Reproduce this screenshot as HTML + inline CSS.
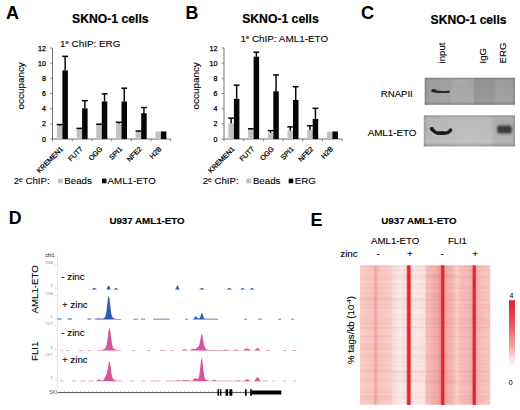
<!DOCTYPE html>
<html><head><meta charset="utf-8"><style>
html,body{margin:0;padding:0;background:#fff;width:520px;height:410px;overflow:hidden;}
svg{display:block;}
text{font-family:"Liberation Sans", sans-serif;}
</style></head><body>
<svg width="520" height="410" viewBox="0 0 520 410">
<rect x="0" y="0" width="520" height="410" fill="#fff"/>
<text x="6.0" y="18.5" font-size="18.0" font-weight="bold" fill="#000" stroke="#000" stroke-width="0.05">A</text>
<text x="185.6" y="18.5" font-size="17.8" font-weight="bold" fill="#000" stroke="#000" stroke-width="0.05">B</text>
<text x="361.0" y="18.6" font-size="18.2" font-weight="bold" fill="#000" stroke="#000" stroke-width="0.05">C</text>
<text x="8.7" y="223.8" font-size="17.8" font-weight="bold" fill="#000" stroke="#000" stroke-width="0.05">D</text>
<text x="310.6" y="225.8" font-size="18.0" font-weight="bold" fill="#000" stroke="#000" stroke-width="0.05">E</text>
<text x="72.0" y="23.1" font-size="12.2" font-weight="bold" fill="#000" stroke="#000" stroke-width="0.2">SKNO-1 cells</text>
<text x="60.0" y="47.0" font-size="9.9" fill="#000" stroke="#000" stroke-width="0.1">1<tspan font-size="6.0" dy="-2.6">e</tspan><tspan dy="2.6"> ChIP: ERG</tspan></text>
<line x1="52.5" y1="48.00399999999999" x2="52.5" y2="139.0" stroke="#707070" stroke-width="1"/>
<line x1="50.3" y1="139.00" x2="52.5" y2="139.00" stroke="#707070" stroke-width="0.9"/>
<text x="46.0" y="141.5" font-size="7.1" text-anchor="end" fill="#000" stroke="#000" stroke-width="0.25">0</text>
<line x1="50.3" y1="123.83" x2="52.5" y2="123.83" stroke="#707070" stroke-width="0.9"/>
<text x="46.0" y="126.33" font-size="7.1" text-anchor="end" fill="#000" stroke="#000" stroke-width="0.25">2</text>
<line x1="50.3" y1="108.67" x2="52.5" y2="108.67" stroke="#707070" stroke-width="0.9"/>
<text x="46.0" y="111.17" font-size="7.1" text-anchor="end" fill="#000" stroke="#000" stroke-width="0.25">4</text>
<line x1="50.3" y1="93.50" x2="52.5" y2="93.50" stroke="#707070" stroke-width="0.9"/>
<text x="46.0" y="96.0" font-size="7.1" text-anchor="end" fill="#000" stroke="#000" stroke-width="0.25">6</text>
<line x1="50.3" y1="78.34" x2="52.5" y2="78.34" stroke="#707070" stroke-width="0.9"/>
<text x="46.0" y="80.84" font-size="7.1" text-anchor="end" fill="#000" stroke="#000" stroke-width="0.25">8</text>
<line x1="50.3" y1="63.17" x2="52.5" y2="63.17" stroke="#707070" stroke-width="0.9"/>
<text x="46.0" y="65.67" font-size="7.1" text-anchor="end" fill="#000" stroke="#000" stroke-width="0.25">10</text>
<line x1="50.3" y1="48.00" x2="52.5" y2="48.00" stroke="#707070" stroke-width="0.9"/>
<text x="46.0" y="50.5" font-size="7.1" text-anchor="end" fill="#000" stroke="#000" stroke-width="0.25">12</text>
<line x1="52.5" y1="139.0" x2="170.70" y2="139.0" stroke="#707070" stroke-width="1"/>
<line x1="52.50" y1="139.0" x2="52.50" y2="141.3" stroke="#707070" stroke-width="0.9"/>
<line x1="72.20" y1="139.0" x2="72.20" y2="141.3" stroke="#707070" stroke-width="0.9"/>
<line x1="91.90" y1="139.0" x2="91.90" y2="141.3" stroke="#707070" stroke-width="0.9"/>
<line x1="111.60" y1="139.0" x2="111.60" y2="141.3" stroke="#707070" stroke-width="0.9"/>
<line x1="131.30" y1="139.0" x2="131.30" y2="141.3" stroke="#707070" stroke-width="0.9"/>
<line x1="151.00" y1="139.0" x2="151.00" y2="141.3" stroke="#707070" stroke-width="0.9"/>
<line x1="170.70" y1="139.0" x2="170.70" y2="141.3" stroke="#707070" stroke-width="0.9"/>
<rect x="56.90" y="125.73" width="5.5" height="13.27" fill="#c2c2c2"/>
<line x1="59.65" y1="125.73" x2="59.65" y2="124.59" stroke="#000" stroke-width="1.45"/>
<line x1="56.75" y1="124.59" x2="62.55" y2="124.59" stroke="#000" stroke-width="1.5"/>
<rect x="62.40" y="70.37" width="5.5" height="68.63" fill="#060606"/>
<line x1="65.15" y1="70.37" x2="65.15" y2="56.35" stroke="#000" stroke-width="1.45"/>
<line x1="62.25" y1="56.35" x2="68.05" y2="56.35" stroke="#000" stroke-width="1.5"/>
<text x="63.55" y="149.5" font-size="7" text-anchor="end" fill="#000" stroke="#000" stroke-width="0.25" transform="rotate(-45 63.55 149.5)">KREMEN1</text>
<rect x="76.60" y="128.76" width="5.5" height="10.24" fill="#c2c2c2"/>
<line x1="79.35" y1="128.76" x2="79.35" y2="128.38" stroke="#000" stroke-width="1.45"/>
<line x1="76.45" y1="128.38" x2="82.25" y2="128.38" stroke="#000" stroke-width="1.5"/>
<rect x="82.10" y="108.29" width="5.5" height="30.71" fill="#060606"/>
<line x1="84.85" y1="108.29" x2="84.85" y2="100.71" stroke="#000" stroke-width="1.45"/>
<line x1="81.95" y1="100.71" x2="87.75" y2="100.71" stroke="#000" stroke-width="1.5"/>
<text x="83.25" y="149.5" font-size="7" text-anchor="end" fill="#000" stroke="#000" stroke-width="0.25" transform="rotate(-45 83.25 149.5)">FUT7</text>
<rect x="96.30" y="124.97" width="5.5" height="14.03" fill="#c2c2c2"/>
<line x1="99.05" y1="124.97" x2="99.05" y2="124.21" stroke="#000" stroke-width="1.45"/>
<line x1="96.15" y1="124.21" x2="101.95" y2="124.21" stroke="#000" stroke-width="1.5"/>
<rect x="101.80" y="101.46" width="5.5" height="37.54" fill="#060606"/>
<line x1="104.55" y1="101.46" x2="104.55" y2="93.88" stroke="#000" stroke-width="1.45"/>
<line x1="101.65" y1="93.88" x2="107.45" y2="93.88" stroke="#000" stroke-width="1.5"/>
<text x="102.95" y="149.5" font-size="7" text-anchor="end" fill="#000" stroke="#000" stroke-width="0.25" transform="rotate(-45 102.95 149.5)">OGG</text>
<rect x="116.00" y="123.83" width="5.5" height="15.17" fill="#c2c2c2"/>
<line x1="118.75" y1="123.83" x2="118.75" y2="122.32" stroke="#000" stroke-width="1.45"/>
<line x1="115.85" y1="122.32" x2="121.65" y2="122.32" stroke="#000" stroke-width="1.5"/>
<rect x="121.50" y="101.46" width="5.5" height="37.54" fill="#060606"/>
<line x1="124.25" y1="101.46" x2="124.25" y2="88.19" stroke="#000" stroke-width="1.45"/>
<line x1="121.35" y1="88.19" x2="127.15" y2="88.19" stroke="#000" stroke-width="1.5"/>
<text x="122.65" y="149.5" font-size="7" text-anchor="end" fill="#000" stroke="#000" stroke-width="0.25" transform="rotate(-45 122.65 149.5)">SPI1</text>
<rect x="135.70" y="131.80" width="5.5" height="7.20" fill="#c2c2c2"/>
<line x1="138.45" y1="131.80" x2="138.45" y2="131.04" stroke="#000" stroke-width="1.45"/>
<line x1="135.55" y1="131.04" x2="141.35" y2="131.04" stroke="#000" stroke-width="1.5"/>
<rect x="141.20" y="113.22" width="5.5" height="25.78" fill="#060606"/>
<line x1="143.95" y1="113.22" x2="143.95" y2="107.53" stroke="#000" stroke-width="1.45"/>
<line x1="141.05" y1="107.53" x2="146.85" y2="107.53" stroke="#000" stroke-width="1.5"/>
<text x="142.35" y="149.5" font-size="7" text-anchor="end" fill="#000" stroke="#000" stroke-width="0.25" transform="rotate(-45 142.35 149.5)">NFE2</text>
<rect x="155.40" y="131.42" width="5.5" height="7.58" fill="#c2c2c2"/>
<rect x="160.90" y="131.42" width="5.5" height="7.58" fill="#060606"/>
<text x="162.05" y="149.5" font-size="7" text-anchor="end" fill="#000" stroke="#000" stroke-width="0.25" transform="rotate(-45 162.05 149.5)">H2B</text>
<text x="13.7" y="184.0" font-size="9.7" fill="#000" stroke="#000" stroke-width="0.1">2<tspan font-size="6.6" dy="-2.0">e</tspan><tspan dy="2.0"> ChIP:</tspan></text>
<rect x="57.9" y="178.6" width="4.9" height="4.7" fill="#c2c2c2"/>
<text x="64.3" y="184.0" font-size="9.7" fill="#000" stroke="#000" stroke-width="0.1">Beads</text>
<rect x="102.0" y="178.6" width="4.5" height="4.7" fill="#060606"/>
<text x="107.6" y="184.0" font-size="9.7" fill="#000" stroke="#000" stroke-width="0.1">AML1-ETO</text>
<text x="23.8" y="85.8" font-size="9.9" text-anchor="middle" fill="#000" stroke="#000" stroke-width="0.1" transform="rotate(-90 23.8 85.8)">occupancy</text>
<text x="242.2" y="23.1" font-size="12.2" font-weight="bold" fill="#000" stroke="#000" stroke-width="0.2">SKNO-1 cells</text>
<text x="240.4" y="41.7" font-size="9.9" fill="#000" stroke="#000" stroke-width="0.1">1<tspan font-size="6.0" dy="-2.6">e</tspan><tspan dy="2.6"> ChIP: AML1-ETO</tspan></text>
<line x1="224.0" y1="48.00399999999999" x2="224.0" y2="139.0" stroke="#707070" stroke-width="1"/>
<line x1="221.8" y1="139.00" x2="224.0" y2="139.00" stroke="#707070" stroke-width="0.9"/>
<text x="217.5" y="141.5" font-size="7.1" text-anchor="end" fill="#000" stroke="#000" stroke-width="0.25">0</text>
<line x1="221.8" y1="123.83" x2="224.0" y2="123.83" stroke="#707070" stroke-width="0.9"/>
<text x="217.5" y="126.33" font-size="7.1" text-anchor="end" fill="#000" stroke="#000" stroke-width="0.25">2</text>
<line x1="221.8" y1="108.67" x2="224.0" y2="108.67" stroke="#707070" stroke-width="0.9"/>
<text x="217.5" y="111.17" font-size="7.1" text-anchor="end" fill="#000" stroke="#000" stroke-width="0.25">4</text>
<line x1="221.8" y1="93.50" x2="224.0" y2="93.50" stroke="#707070" stroke-width="0.9"/>
<text x="217.5" y="96.0" font-size="7.1" text-anchor="end" fill="#000" stroke="#000" stroke-width="0.25">6</text>
<line x1="221.8" y1="78.34" x2="224.0" y2="78.34" stroke="#707070" stroke-width="0.9"/>
<text x="217.5" y="80.84" font-size="7.1" text-anchor="end" fill="#000" stroke="#000" stroke-width="0.25">8</text>
<line x1="221.8" y1="63.17" x2="224.0" y2="63.17" stroke="#707070" stroke-width="0.9"/>
<text x="217.5" y="65.67" font-size="7.1" text-anchor="end" fill="#000" stroke="#000" stroke-width="0.25">10</text>
<line x1="221.8" y1="48.00" x2="224.0" y2="48.00" stroke="#707070" stroke-width="0.9"/>
<text x="217.5" y="50.5" font-size="7.1" text-anchor="end" fill="#000" stroke="#000" stroke-width="0.25">12</text>
<line x1="224.0" y1="139.0" x2="342.20" y2="139.0" stroke="#707070" stroke-width="1"/>
<line x1="224.00" y1="139.0" x2="224.00" y2="141.3" stroke="#707070" stroke-width="0.9"/>
<line x1="243.70" y1="139.0" x2="243.70" y2="141.3" stroke="#707070" stroke-width="0.9"/>
<line x1="263.40" y1="139.0" x2="263.40" y2="141.3" stroke="#707070" stroke-width="0.9"/>
<line x1="283.10" y1="139.0" x2="283.10" y2="141.3" stroke="#707070" stroke-width="0.9"/>
<line x1="302.80" y1="139.0" x2="302.80" y2="141.3" stroke="#707070" stroke-width="0.9"/>
<line x1="322.50" y1="139.0" x2="322.50" y2="141.3" stroke="#707070" stroke-width="0.9"/>
<line x1="342.20" y1="139.0" x2="342.20" y2="141.3" stroke="#707070" stroke-width="0.9"/>
<rect x="228.40" y="123.45" width="5.5" height="15.55" fill="#c2c2c2"/>
<line x1="231.15" y1="123.45" x2="231.15" y2="118.15" stroke="#000" stroke-width="1.45"/>
<line x1="228.25" y1="118.15" x2="234.05" y2="118.15" stroke="#000" stroke-width="1.5"/>
<rect x="233.90" y="98.81" width="5.5" height="40.19" fill="#060606"/>
<line x1="236.65" y1="98.81" x2="236.65" y2="85.16" stroke="#000" stroke-width="1.45"/>
<line x1="233.75" y1="85.16" x2="239.55" y2="85.16" stroke="#000" stroke-width="1.5"/>
<text x="235.05" y="149.5" font-size="7" text-anchor="end" fill="#000" stroke="#000" stroke-width="0.25" transform="rotate(-45 235.05 149.5)">KREMEN1</text>
<rect x="248.10" y="129.52" width="5.5" height="9.48" fill="#c2c2c2"/>
<line x1="250.85" y1="129.52" x2="250.85" y2="128.76" stroke="#000" stroke-width="1.45"/>
<line x1="247.95" y1="128.76" x2="253.75" y2="128.76" stroke="#000" stroke-width="1.5"/>
<rect x="253.60" y="56.72" width="5.5" height="82.28" fill="#060606"/>
<line x1="256.35" y1="56.72" x2="256.35" y2="52.17" stroke="#000" stroke-width="1.45"/>
<line x1="253.45" y1="52.17" x2="259.25" y2="52.17" stroke="#000" stroke-width="1.5"/>
<text x="254.75" y="149.5" font-size="7" text-anchor="end" fill="#000" stroke="#000" stroke-width="0.25" transform="rotate(-45 254.75 149.5)">FUT7</text>
<rect x="267.80" y="132.93" width="5.5" height="6.07" fill="#c2c2c2"/>
<line x1="270.55" y1="132.93" x2="270.55" y2="130.66" stroke="#000" stroke-width="1.45"/>
<line x1="267.65" y1="130.66" x2="273.45" y2="130.66" stroke="#000" stroke-width="1.5"/>
<rect x="273.30" y="91.23" width="5.5" height="47.77" fill="#060606"/>
<line x1="276.05" y1="91.23" x2="276.05" y2="74.92" stroke="#000" stroke-width="1.45"/>
<line x1="273.15" y1="74.92" x2="278.95" y2="74.92" stroke="#000" stroke-width="1.5"/>
<text x="274.45" y="149.5" font-size="7" text-anchor="end" fill="#000" stroke="#000" stroke-width="0.25" transform="rotate(-45 274.45 149.5)">OGG</text>
<rect x="287.50" y="130.66" width="5.5" height="8.34" fill="#c2c2c2"/>
<line x1="290.25" y1="130.66" x2="290.25" y2="126.87" stroke="#000" stroke-width="1.45"/>
<line x1="287.35" y1="126.87" x2="293.15" y2="126.87" stroke="#000" stroke-width="1.5"/>
<rect x="293.00" y="99.95" width="5.5" height="39.05" fill="#060606"/>
<line x1="295.75" y1="99.95" x2="295.75" y2="86.68" stroke="#000" stroke-width="1.45"/>
<line x1="292.85" y1="86.68" x2="298.65" y2="86.68" stroke="#000" stroke-width="1.5"/>
<text x="294.15" y="149.5" font-size="7" text-anchor="end" fill="#000" stroke="#000" stroke-width="0.25" transform="rotate(-45 294.15 149.5)">SPI1</text>
<rect x="307.20" y="129.90" width="5.5" height="9.10" fill="#c2c2c2"/>
<line x1="309.95" y1="129.90" x2="309.95" y2="125.73" stroke="#000" stroke-width="1.45"/>
<line x1="307.05" y1="125.73" x2="312.85" y2="125.73" stroke="#000" stroke-width="1.5"/>
<rect x="312.70" y="118.91" width="5.5" height="20.09" fill="#060606"/>
<line x1="315.45" y1="118.91" x2="315.45" y2="108.29" stroke="#000" stroke-width="1.45"/>
<line x1="312.55" y1="108.29" x2="318.35" y2="108.29" stroke="#000" stroke-width="1.5"/>
<text x="313.85" y="149.5" font-size="7" text-anchor="end" fill="#000" stroke="#000" stroke-width="0.25" transform="rotate(-45 313.85 149.5)">NFE2</text>
<rect x="326.90" y="131.80" width="5.5" height="7.20" fill="#c2c2c2"/>
<rect x="332.40" y="131.42" width="5.5" height="7.58" fill="#060606"/>
<text x="333.55" y="149.5" font-size="7" text-anchor="end" fill="#000" stroke="#000" stroke-width="0.25" transform="rotate(-45 333.55 149.5)">H2B</text>
<text x="202.7" y="184.0" font-size="9.7" fill="#000" stroke="#000" stroke-width="0.1">2<tspan font-size="6.6" dy="-2.0">e</tspan><tspan dy="2.0"> ChIP:</tspan></text>
<rect x="246.3" y="178.6" width="4.9" height="4.7" fill="#c2c2c2"/>
<text x="252.9" y="184.0" font-size="9.7" fill="#000" stroke="#000" stroke-width="0.1">Beads</text>
<rect x="288.7" y="178.6" width="4.5" height="4.7" fill="#060606"/>
<text x="294.7" y="184.0" font-size="9.7" fill="#000" stroke="#000" stroke-width="0.1">ERG</text>
<text x="199.4" y="85.8" font-size="9.9" text-anchor="middle" fill="#000" stroke="#000" stroke-width="0.1" transform="rotate(-90 199.4 85.8)">occupancy</text>
<text x="430.6" y="23.8" font-size="12.1" font-weight="bold" fill="#000" stroke="#000" stroke-width="0.2">SKNO-1 cells</text>
<text x="444.8" y="63.5" font-size="9.7" fill="#000" stroke="#000" stroke-width="0.1" transform="rotate(-90 444.8 63.5)">input</text>
<text x="485.9" y="63.5" font-size="9.7" fill="#000" stroke="#000" stroke-width="0.1" transform="rotate(-90 485.9 63.5)">IgG</text>
<text x="506.0" y="63.5" font-size="9.7" fill="#000" stroke="#000" stroke-width="0.1" transform="rotate(-90 506.0 63.5)">ERG</text>
<text x="412.8" y="97.2" font-size="9.6" text-anchor="end" fill="#000" stroke="#000" stroke-width="0.1">RNAPII</text>
<text x="416.5" y="136.3" font-size="9.8" text-anchor="end" fill="#000" stroke="#000" stroke-width="0.1">AML1-ETO</text>
<defs><linearGradient id="b1" x1="0" y1="0" x2="1" y2="0"><stop offset="0" stop-color="#858585"/><stop offset="0.035" stop-color="#a0a0a0"/><stop offset="0.28" stop-color="#a6a6a6"/><stop offset="0.31" stop-color="#acacac"/><stop offset="0.53" stop-color="#aaaaaa"/><stop offset="0.56" stop-color="#969696"/><stop offset="0.66" stop-color="#9a9a9a"/><stop offset="0.76" stop-color="#979797"/><stop offset="0.79" stop-color="#a2a2a2"/><stop offset="0.97" stop-color="#a0a0a0"/><stop offset="1" stop-color="#8a8a8a"/></linearGradient><linearGradient id="b2" x1="0" y1="0" x2="1" y2="0"><stop offset="0" stop-color="#a0a0a0"/><stop offset="0.04" stop-color="#bababa"/><stop offset="0.3" stop-color="#bfbfbf"/><stop offset="0.5" stop-color="#c3c3c3"/><stop offset="0.72" stop-color="#bfbfbf"/><stop offset="0.78" stop-color="#b4b4b4"/><stop offset="0.97" stop-color="#b2b2b2"/><stop offset="1" stop-color="#9a9a9a"/></linearGradient><linearGradient id="bv" x1="0" y1="0" x2="0" y2="1"><stop offset="0" stop-color="#000" stop-opacity="0.25"/><stop offset="0.07" stop-color="#000" stop-opacity="0.04"/><stop offset="0.88" stop-color="#000" stop-opacity="0.0"/><stop offset="1" stop-color="#000" stop-opacity="0.2"/></linearGradient><linearGradient id="cb" x1="0" y1="0" x2="0" y2="1"><stop offset="0" stop-color="#e0262e"/><stop offset="0.3" stop-color="#e6474d"/><stop offset="0.7" stop-color="#f2a3a6"/><stop offset="1" stop-color="#ffffff"/></linearGradient><filter id="bl1" x="-20%" y="-50%" width="140%" height="200%"><feGaussianBlur stdDeviation="0.6"/></filter><filter id="bl2" x="-50%" y="-80%" width="200%" height="260%"><feGaussianBlur stdDeviation="1.9"/></filter><filter id="bl3" x="-50%" y="-80%" width="200%" height="260%"><feGaussianBlur stdDeviation="1.25"/></filter></defs>
<rect x="424.7" y="77.8" width="90.3" height="27" fill="url(#b1)"/>
<rect x="424.7" y="77.8" width="90.3" height="27" fill="url(#bv)"/>
<ellipse cx="462" cy="82" rx="8" ry="2.5" fill="#fff" opacity="0.05"/>
<rect x="423.8" y="115.4" width="91.2" height="31" fill="url(#b2)"/>
<rect x="423.8" y="115.4" width="91.2" height="31" fill="url(#bv)"/>
<path d="M431.8,90.6 Q440,93.0 449.6,91.6" stroke="#2c2c2c" stroke-width="2.4" fill="none" filter="url(#bl1)"/>
<ellipse cx="433.8" cy="90.6" rx="2.6" ry="1.7" fill="#262626" filter="url(#bl1)"/>
<path d="M430.6,128.8 C433,129 434,132.6 437.5,133.2 L446,133.2 C449,133 450,130.2 451.8,129.3" stroke="#181818" stroke-width="3.3" fill="none" filter="url(#bl1)"/>
<ellipse cx="431.8" cy="128.7" rx="2" ry="1.8" fill="#181818" filter="url(#bl1)"/>
<ellipse cx="441.5" cy="133" rx="5.2" ry="1.7" fill="#181818" filter="url(#bl1)"/>
<rect x="497.2" y="125.6" width="14.6" height="7.8" rx="2" fill="#3a3a3a" filter="url(#bl3)"/>
<text x="109.4" y="223.8" font-size="9.75" font-weight="bold" fill="#000" stroke="#000" stroke-width="0.15">U937 AML1-ETO</text>
<text x="38.3" y="289.4" font-size="9.7" text-anchor="middle" fill="#000" stroke="#000" stroke-width="0.1" transform="rotate(-90 38.3 289.4)">AML1-ETO</text>
<text x="38.3" y="351.3" font-size="9.7" text-anchor="middle" fill="#000" stroke="#000" stroke-width="0.1" transform="rotate(-90 38.3 351.3)">FLI1</text>
<line x1="57.4" y1="255" x2="57.4" y2="388" stroke="#ece2e6" stroke-width="1"/>
<text x="45.4" y="257.2" font-size="4.6" fill="#445" stroke="#445" stroke-width="0.1">chr1:</text>
<text x="52.6" y="263.8" font-size="4.4" text-anchor="end" fill="#7d9bcc" stroke="#7d9bcc" stroke-width="0.1">116</text>
<line x1="54.6" y1="264.40000000000003" x2="57.4" y2="264.40000000000003" stroke="#c8c8c8" stroke-width="0.6"/>
<text x="52.6" y="295.2" font-size="4.4" text-anchor="end" fill="#7d9bcc" stroke="#7d9bcc" stroke-width="0.1">116</text>
<line x1="54.6" y1="295.8" x2="57.4" y2="295.8" stroke="#c8c8c8" stroke-width="0.6"/>
<text x="52.6" y="325" font-size="4.4" text-anchor="end" fill="#dca0bc" stroke="#dca0bc" stroke-width="0.1">107</text>
<line x1="54.6" y1="325.6" x2="57.4" y2="325.6" stroke="#c8c8c8" stroke-width="0.6"/>
<text x="52.6" y="355.6" font-size="4.4" text-anchor="end" fill="#dca0bc" stroke="#dca0bc" stroke-width="0.1">107</text>
<line x1="54.6" y1="356.20000000000005" x2="57.4" y2="356.20000000000005" stroke="#c8c8c8" stroke-width="0.6"/>
<text x="52.8" y="287.3" font-size="4.4" text-anchor="end" fill="#999" stroke="#999" stroke-width="0.1">1</text>
<line x1="54.6" y1="288.40000000000003" x2="57.4" y2="288.40000000000003" stroke="#c8c8c8" stroke-width="0.6"/>
<text x="52.8" y="317.8" font-size="4.4" text-anchor="end" fill="#999" stroke="#999" stroke-width="0.1">1</text>
<line x1="54.6" y1="318.90000000000003" x2="57.4" y2="318.90000000000003" stroke="#c8c8c8" stroke-width="0.6"/>
<text x="52.8" y="348.6" font-size="4.4" text-anchor="end" fill="#999" stroke="#999" stroke-width="0.1">1</text>
<line x1="54.6" y1="349.70000000000005" x2="57.4" y2="349.70000000000005" stroke="#c8c8c8" stroke-width="0.6"/>
<text x="52.8" y="379.3" font-size="4.4" text-anchor="end" fill="#999" stroke="#999" stroke-width="0.1">1</text>
<line x1="54.6" y1="380.40000000000003" x2="57.4" y2="380.40000000000003" stroke="#c8c8c8" stroke-width="0.6"/>
<text x="61.3" y="279.7" font-size="9.8" fill="#000" stroke="#000" stroke-width="0.1">- zinc</text>
<text x="61.9" y="308.4" font-size="9.8" fill="#000" stroke="#000" stroke-width="0.1">+ zinc</text>
<text x="61.3" y="335.8" font-size="9.8" fill="#000" stroke="#000" stroke-width="0.1">- zinc</text>
<text x="61.9" y="363.4" font-size="9.8" fill="#000" stroke="#000" stroke-width="0.1">+ zinc</text>
<path d="M57.8,289.5L57.8,289.50L58.3,289.50L58.8,289.50L59.3,289.50L59.8,289.50L60.3,289.50L60.8,289.50L61.3,289.50L61.8,289.50L62.3,289.50L62.8,289.50L63.3,289.50L63.8,289.50L64.3,289.50L64.8,289.50L65.3,289.50L65.8,289.50L66.3,289.50L66.8,289.50L67.3,289.50L67.8,289.50L68.3,289.50L68.8,289.50L69.3,289.50L69.8,289.50L70.3,289.50L70.8,289.50L71.3,289.50L71.8,289.50L72.3,289.50L72.8,289.50L73.3,289.50L73.8,289.50L74.3,289.50L74.8,289.50L75.3,289.50L75.8,289.50L76.3,289.50L76.8,289.50L77.3,289.50L77.8,289.50L78.3,289.50L78.8,289.50L79.3,289.50L79.8,289.50L80.3,289.50L80.8,289.50L81.3,289.50L81.8,289.50L82.3,289.50L82.8,289.50L83.3,289.50L83.8,289.50L84.3,289.50L84.8,289.50L85.3,289.50L85.8,289.50L86.3,289.50L86.8,289.50L87.3,289.50L87.8,289.50L88.3,289.50L88.8,289.50L89.3,289.50L89.8,289.50L90.3,289.49L90.8,289.46L91.3,289.39L91.8,289.25L92.3,289.01L92.8,288.68L93.3,288.31L93.8,288.01L94.3,287.90L94.8,288.01L95.3,288.31L95.8,288.68L96.3,289.01L96.8,289.25L97.3,289.39L97.8,289.46L98.3,289.49L98.8,289.50L99.3,289.50L99.8,289.50L100.3,289.50L100.8,289.50L101.3,289.50L101.8,289.50L102.3,289.50L102.8,289.50L103.3,289.50L103.8,289.50L104.3,289.50L104.8,289.50L105.3,289.50L105.8,289.50L106.3,289.45L106.8,289.01L107.3,287.51L107.8,285.87L108.3,286.05L108.8,286.17L109.3,285.76L109.8,287.11L110.3,288.81L110.8,289.41L111.3,289.49L111.8,289.50L112.3,289.49L112.8,289.47L113.3,289.40L113.8,289.26L114.3,289.01L114.8,288.67L115.3,288.30L115.8,288.05L116.3,288.02L116.8,288.23L117.3,288.59L117.8,288.95L118.3,289.22L118.8,289.38L119.3,289.46L119.8,289.49L120.3,289.50L120.8,289.50L121.3,289.50L121.8,289.50L122.3,289.50L122.8,289.50L123.3,289.50L123.8,289.50L124.3,289.50L124.8,289.50L125.3,289.50L125.8,289.50L126.3,289.50L126.8,289.50L127.3,289.50L127.8,289.50L128.3,289.50L128.8,289.50L129.3,289.50L129.8,289.50L130.3,289.50L130.8,289.50L131.3,289.50L131.8,289.50L132.3,289.50L132.8,289.50L133.3,289.50L133.8,289.50L134.3,289.50L134.8,289.50L135.3,289.50L135.8,289.50L136.3,289.50L136.8,289.50L137.3,289.50L137.8,289.50L138.3,289.50L138.8,289.50L139.3,289.50L139.8,289.50L140.3,289.50L140.8,289.50L141.3,289.50L141.8,289.50L142.3,289.50L142.8,289.50L143.3,289.50L143.8,289.50L144.3,289.50L144.8,289.50L145.3,289.50L145.8,289.50L146.3,289.50L146.8,289.50L147.3,289.50L147.8,289.50L148.3,289.50L148.8,289.50L149.3,289.50L149.8,289.50L150.3,289.50L150.8,289.50L151.3,289.50L151.8,289.50L152.3,289.50L152.8,289.50L153.3,289.50L153.8,289.50L154.3,289.50L154.8,289.50L155.3,289.50L155.8,289.50L156.3,289.50L156.8,289.50L157.3,289.50L157.8,289.50L158.3,289.50L158.8,289.50L159.3,289.50L159.8,289.50L160.3,289.50L160.8,289.50L161.3,289.50L161.8,289.50L162.3,289.50L162.8,289.50L163.3,289.50L163.8,289.50L164.3,289.50L164.8,289.50L165.3,289.50L165.8,289.50L166.3,289.50L166.8,289.50L167.3,289.50L167.8,289.50L168.3,289.50L168.8,289.50L169.3,289.50L169.8,289.50L170.3,289.50L170.8,289.50L171.3,289.50L171.8,289.50L172.3,289.50L172.8,289.50L173.3,289.50L173.8,289.50L174.3,289.47L174.8,289.39L175.3,289.12L175.8,288.49L176.3,287.41L176.8,286.13L177.3,285.29L177.8,285.39L178.3,286.38L178.8,287.65L179.3,288.65L179.8,289.19L180.3,289.41L180.8,289.48L181.3,289.50L181.8,289.50L182.3,289.50L182.8,289.50L183.3,289.50L183.8,289.50L184.3,289.50L184.8,289.50L185.3,289.50L185.8,289.50L186.3,289.50L186.8,289.50L187.3,289.50L187.8,289.50L188.3,289.50L188.8,289.50L189.3,289.50L189.8,289.50L190.3,289.50L190.8,289.50L191.3,289.50L191.8,289.50L192.3,289.50L192.8,289.50L193.3,289.50L193.8,289.50L194.3,289.50L194.8,289.50L195.3,289.50L195.8,289.50L196.3,289.50L196.8,289.50L197.3,289.50L197.8,289.49L198.3,289.47L198.8,289.42L199.3,289.31L199.8,289.12L200.3,288.82L200.8,288.46L201.3,288.12L201.8,287.92L202.3,287.94L202.8,288.18L203.3,288.53L203.8,288.89L204.3,289.17L204.8,289.34L205.3,289.44L205.8,289.48L206.3,289.49L206.8,289.50L207.3,289.50L207.8,289.50L208.3,289.50L208.8,289.50L209.3,289.50L209.8,289.50L210.3,289.50L210.8,289.50L211.3,289.50L211.8,289.50L212.3,289.50L212.8,289.50L213.3,289.50L213.8,289.50L214.3,289.50L214.8,289.50L215.3,289.50L215.8,289.50L216.3,289.50L216.8,289.50L217.3,289.50L217.8,289.50L218.3,289.50L218.8,289.50L219.3,289.50L219.8,289.50L220.3,289.50L220.8,289.50L221.3,289.50L221.8,289.50L222.3,289.50L222.8,289.50L223.3,289.50L223.8,289.50L224.3,289.50L224.8,289.50L225.3,289.49L225.8,289.48L226.3,289.43L226.8,289.32L227.3,289.10L227.8,288.77L228.3,288.37L228.8,288.03L229.3,287.90L229.8,288.03L230.3,288.37L230.8,288.77L231.3,289.10L231.8,289.32L232.3,289.43L232.8,289.48L233.3,289.49L233.8,289.50L234.3,289.50L234.8,289.50L235.3,289.50L235.8,289.50L236.3,289.50L236.8,289.50L237.3,289.50L237.8,289.50L238.3,289.50L238.8,289.49L239.3,289.45L239.8,289.37L240.3,289.20L240.8,288.91L241.3,288.53L241.8,288.15L242.3,287.92L242.8,287.95L243.3,288.22L243.8,288.61L244.3,288.98L244.8,289.25L245.3,289.39L245.8,289.46L246.3,289.49L246.8,289.50L247.3,289.50L247.8,289.50L248.3,289.49L248.8,289.45L249.3,289.37L249.8,289.20L250.3,288.91L250.8,288.53L251.3,288.15L251.8,287.92L252.3,287.95L252.8,288.22L253.3,288.61L253.8,288.98L254.3,289.25L254.8,289.39L255.3,289.46L255.8,289.49L256.3,289.50L256.8,289.50L257.3,289.50L257.8,289.50L258.3,289.50L258.8,289.50L259.3,289.50L259.8,289.50L260.3,289.50L260.8,289.50L261.3,289.50L261.8,289.50L262.3,289.50L262.8,289.50L263.3,289.50L263.8,289.50L264.3,289.50L264.8,289.50L265.3,289.50L265.8,289.50L266.3,289.50L266.8,289.50L267.3,289.50L267.8,289.50L268.3,289.50L268.8,289.50L269.3,289.50L269.8,289.50L270.3,289.50L270.8,289.50L271.3,289.50L271.8,289.50L272.3,289.50L272.8,289.50L273.3,289.50L273.8,289.50L274.3,289.50L274.8,289.50L275.3,289.50L275.8,289.50L276.3,289.50L276.8,289.50L277.3,289.50L277.8,289.50L278.3,289.50L278.8,289.50L279.3,289.50L279.8,289.50L280.3,289.50L280.8,289.50L281.3,289.50L281.8,289.50L282.3,289.50L282.8,289.50L283.3,289.50L283.8,289.50L284.3,289.50L284.8,289.50L285.3,289.50L285.8,289.50L286.3,289.50L286.8,289.50L287.3,289.50L287.8,289.50L288.3,289.50L288.8,289.50L289.3,289.50L289.8,289.50L290.3,289.50L290.8,289.50L291.3,289.50L291.8,289.50L292.3,289.50L292.8,289.50L293.3,289.50L293.8,289.50L294.3,289.50L294.8,289.50L295.3,289.50L295.8,289.50L296.3,289.50L296.8,289.50L297.0,289.5Z" fill="#2e5bb4" opacity="1.0"/>
<path d="M57.8,319.5L57.8,318.60L58.3,318.60L58.8,318.60L59.3,318.60L59.8,318.60L60.3,318.60L60.8,318.60L61.3,318.60L61.8,319.50L62.3,319.50L62.8,319.50L63.3,319.50L63.8,319.50L64.3,319.50L64.8,319.50L65.3,319.50L65.8,319.50L66.3,319.50L66.8,319.50L67.3,319.50L67.8,318.60L68.3,318.60L68.8,318.60L69.3,318.60L69.8,318.60L70.3,318.60L70.8,318.60L71.3,318.60L71.8,318.60L72.3,319.50L72.8,319.50L73.3,319.50L73.8,319.50L74.3,319.50L74.8,319.50L75.3,319.50L75.8,319.50L76.3,319.50L76.8,319.50L77.3,319.50L77.8,319.50L78.3,319.50L78.8,319.50L79.3,319.50L79.8,319.50L80.3,319.50L80.8,319.50L81.3,319.50L81.8,319.50L82.3,319.50L82.8,319.50L83.3,319.50L83.8,319.50L84.3,319.50L84.8,319.50L85.3,319.50L85.8,319.50L86.3,319.50L86.8,319.50L87.3,319.50L87.8,318.60L88.3,318.60L88.8,318.60L89.3,318.60L89.8,318.60L90.3,318.60L90.8,318.60L91.3,319.50L91.8,319.50L92.3,319.50L92.8,319.50L93.3,319.50L93.8,319.50L94.3,319.50L94.8,319.50L95.3,318.60L95.8,318.60L96.3,318.60L96.8,318.60L97.3,318.60L97.8,318.60L98.3,318.60L98.8,318.60L99.3,318.60L99.8,318.60L100.3,318.60L100.8,318.60L101.3,318.60L101.8,318.92L102.3,318.77L102.8,318.60L103.3,318.39L103.8,318.15L104.3,317.82L104.8,317.30L105.3,316.41L105.8,314.85L106.3,312.30L106.8,308.65L107.3,304.20L107.8,299.83L108.3,296.74L108.8,295.95L109.3,297.74L109.8,301.49L110.3,306.03L110.8,310.24L111.3,313.45L111.8,315.57L112.3,316.83L112.8,317.54L113.3,317.96L113.8,318.25L114.3,318.48L114.8,318.67L115.3,318.84L115.8,318.98L116.3,319.08L116.8,319.08L117.3,319.08L117.8,319.08L118.3,319.08L118.8,319.08L119.3,319.08L119.8,319.08L120.3,319.08L120.8,319.08L121.3,319.49L121.8,319.49L122.3,319.50L122.8,319.50L123.3,319.50L123.8,319.50L124.3,319.50L124.8,319.50L125.3,319.50L125.8,319.50L126.3,319.50L126.8,319.50L127.3,319.50L127.8,319.50L128.3,319.50L128.8,319.50L129.3,319.50L129.8,319.50L130.3,319.50L130.8,319.50L131.3,319.50L131.8,319.50L132.3,319.50L132.8,319.50L133.3,319.50L133.8,318.70L134.3,318.70L134.8,318.70L135.3,318.70L135.8,318.70L136.3,318.70L136.8,318.70L137.3,318.70L137.8,318.70L138.3,319.50L138.8,319.50L139.3,319.50L139.8,319.50L140.3,319.50L140.8,319.50L141.3,318.70L141.8,318.70L142.3,318.70L142.8,318.70L143.3,318.70L143.8,318.70L144.3,318.70L144.8,318.70L145.3,319.50L145.8,319.50L146.3,319.50L146.8,319.50L147.3,319.50L147.8,319.50L148.3,319.50L148.8,319.50L149.3,319.50L149.8,319.50L150.3,319.50L150.8,319.50L151.3,319.50L151.8,319.50L152.3,319.50L152.8,319.50L153.3,318.70L153.8,318.70L154.3,318.70L154.8,318.70L155.3,318.70L155.8,318.70L156.3,318.70L156.8,318.70L157.3,318.70L157.8,318.70L158.3,318.70L158.8,318.70L159.3,318.70L159.8,318.70L160.3,318.70L160.8,318.70L161.3,318.70L161.8,318.70L162.3,318.70L162.8,318.70L163.3,318.70L163.8,318.70L164.3,318.70L164.8,318.70L165.3,318.70L165.8,318.70L166.3,318.70L166.8,318.70L167.3,318.70L167.8,318.70L168.3,318.70L168.8,318.70L169.3,318.70L169.8,319.50L170.3,319.50L170.8,319.50L171.3,319.50L171.8,319.50L172.3,319.50L172.8,319.50L173.3,319.50L173.8,319.50L174.3,319.50L174.8,319.50L175.3,319.50L175.8,319.50L176.3,319.50L176.8,319.50L177.3,319.50L177.8,319.50L178.3,319.50L178.8,319.50L179.3,319.50L179.8,319.50L180.3,319.50L180.8,319.50L181.3,319.50L181.8,319.50L182.3,319.50L182.8,319.50L183.3,319.50L183.8,319.50L184.3,319.50L184.8,319.50L185.3,318.70L185.8,318.70L186.3,318.70L186.8,318.70L187.3,318.70L187.8,318.70L188.3,319.50L188.8,319.50L189.3,319.50L189.8,319.49L190.3,319.49L190.8,319.48L191.3,319.47L191.8,319.45L192.3,319.41L192.8,319.31L193.3,319.06L193.8,318.57L194.3,317.82L194.8,316.95L195.3,316.29L195.8,316.15L196.3,316.56L196.8,317.26L197.3,317.90L197.8,318.30L198.3,318.45L198.8,318.43L199.3,318.23L199.8,317.75L200.3,316.77L200.8,315.24L201.3,313.63L201.8,312.76L202.3,313.21L202.8,314.71L203.3,316.43L203.8,317.71L204.3,318.42L204.8,318.75L205.3,318.70L205.8,318.70L206.3,318.70L206.8,318.70L207.3,318.70L207.8,318.70L208.3,318.70L208.8,318.70L209.3,318.70L209.8,318.70L210.3,318.70L210.8,318.70L211.3,318.70L211.8,318.70L212.3,318.70L212.8,318.70L213.3,318.70L213.8,318.70L214.3,318.70L214.8,318.70L215.3,318.70L215.8,318.70L216.3,318.70L216.8,318.70L217.3,318.70L217.8,318.70L218.3,319.50L218.8,319.50L219.3,319.50L219.8,319.50L220.3,319.50L220.8,319.50L221.3,319.50L221.8,319.50L222.3,319.50L222.8,319.50L223.3,319.50L223.8,319.50L224.3,319.50L224.8,319.50L225.3,319.50L225.8,319.50L226.3,319.50L226.8,319.50L227.3,319.50L227.8,319.50L228.3,319.50L228.8,319.50L229.3,319.50L229.8,319.50L230.3,319.50L230.8,319.50L231.3,319.50L231.8,319.50L232.3,319.50L232.8,319.50L233.3,319.50L233.8,319.50L234.3,319.50L234.8,319.50L235.3,319.50L235.8,319.50L236.3,319.50L236.8,319.50L237.3,319.50L237.8,319.50L238.3,319.50L238.8,319.50L239.3,319.50L239.8,319.50L240.3,319.50L240.8,319.50L241.3,319.50L241.8,319.50L242.3,319.50L242.8,319.50L243.3,319.50L243.8,319.50L244.3,318.70L244.8,318.70L245.3,318.70L245.8,318.70L246.3,318.70L246.8,318.70L247.3,319.50L247.8,319.50L248.3,319.50L248.8,319.50L249.3,319.50L249.8,319.50L250.3,319.50L250.8,319.50L251.3,319.50L251.8,319.50L252.3,319.50L252.8,319.50L253.3,319.50L253.8,319.50L254.3,319.50L254.8,319.50L255.3,319.50L255.8,319.50L256.3,319.50L256.8,319.50L257.3,319.50L257.8,319.50L258.3,318.70L258.8,318.70L259.3,318.70L259.8,318.70L260.3,318.70L260.8,318.70L261.3,318.70L261.8,318.70L262.3,319.50L262.8,319.50L263.3,319.50L263.8,319.50L264.3,319.50L264.8,319.50L265.3,319.50L265.8,319.50L266.3,319.50L266.8,319.50L267.3,319.50L267.8,319.50L268.3,319.50L268.8,319.50L269.3,319.50L269.8,319.50L270.3,319.50L270.8,319.50L271.3,319.50L271.8,319.50L272.3,319.50L272.8,319.50L273.3,319.50L273.8,319.50L274.3,319.50L274.8,319.50L275.3,319.50L275.8,319.50L276.3,319.50L276.8,319.50L277.3,319.50L277.8,319.50L278.3,318.70L278.8,318.70L279.3,318.70L279.8,318.70L280.3,318.70L280.8,318.70L281.3,319.50L281.8,319.50L282.3,319.50L282.8,319.50L283.3,319.50L283.8,319.50L284.3,319.50L284.8,319.50L285.3,319.50L285.8,319.50L286.3,319.50L286.8,319.50L287.3,319.50L287.8,319.50L288.3,319.50L288.8,319.50L289.3,319.50L289.8,319.50L290.3,319.50L290.8,319.50L291.3,318.70L291.8,318.70L292.3,318.70L292.8,318.70L293.3,318.70L293.8,318.70L294.3,319.50L294.8,319.50L295.3,319.50L295.8,319.50L296.3,319.50L296.8,319.50L297.0,319.5Z" fill="#2e5bb4" opacity="1.0"/>
<path d="M57.8,350.5L57.8,350.50L58.3,350.50L58.8,350.50L59.3,350.50L59.8,350.50L60.3,350.08L60.8,350.08L61.3,350.08L61.8,350.08L62.3,350.08L62.8,350.08L63.3,350.50L63.8,350.50L64.3,350.50L64.8,350.50L65.3,350.50L65.8,350.50L66.3,350.08L66.8,350.08L67.3,350.08L67.8,350.08L68.3,350.08L68.8,350.08L69.3,350.50L69.8,350.50L70.3,350.50L70.8,350.50L71.3,350.50L71.8,350.50L72.3,350.50L72.8,350.50L73.3,350.50L73.8,350.50L74.3,350.50L74.8,350.50L75.3,350.50L75.8,350.50L76.3,350.50L76.8,350.50L77.3,350.50L77.8,350.50L78.3,350.50L78.8,350.50L79.3,350.08L79.8,350.08L80.3,350.08L80.8,350.08L81.3,350.08L81.8,350.08L82.3,350.08L82.8,350.08L83.3,350.50L83.8,350.50L84.3,350.50L84.8,350.50L85.3,350.50L85.8,350.50L86.3,350.50L86.8,350.50L87.3,350.50L87.8,350.50L88.3,350.08L88.8,350.08L89.3,350.08L89.8,350.08L90.3,350.08L90.8,350.08L91.3,350.50L91.8,350.50L92.3,350.50L92.8,350.50L93.3,350.50L93.8,350.50L94.3,350.49L94.8,350.49L95.3,350.49L95.8,350.48L96.3,350.47L96.8,350.46L97.3,350.08L97.8,350.08L98.3,350.08L98.8,350.08L99.3,350.08L99.8,350.08L100.3,350.08L100.8,350.08L101.3,350.01L101.8,349.89L102.3,349.76L102.8,349.61L103.3,349.43L103.8,349.24L104.3,349.00L104.8,348.69L105.3,348.19L105.8,347.36L106.3,345.95L106.8,343.72L107.3,340.57L107.8,336.70L108.3,332.71L108.8,329.54L109.3,328.04L109.8,328.70L110.3,331.29L110.8,335.07L111.3,339.08L111.8,342.57L112.3,345.17L112.8,346.88L113.3,347.91L113.8,348.52L114.3,348.89L114.8,349.15L115.3,349.36L115.8,349.54L116.3,349.70L116.8,349.84L117.3,349.96L117.8,350.07L118.3,350.08L118.8,350.08L119.3,350.08L119.8,350.08L120.3,350.08L120.8,350.08L121.3,350.44L121.8,350.45L122.3,350.47L122.8,350.48L123.3,350.48L123.8,350.49L124.3,350.49L124.8,350.50L125.3,350.50L125.8,350.50L126.3,350.50L126.8,350.50L127.3,350.50L127.8,350.50L128.3,350.50L128.8,350.50L129.3,350.50L129.8,350.50L130.3,350.50L130.8,350.50L131.3,350.50L131.8,350.50L132.3,350.08L132.8,350.08L133.3,350.08L133.8,350.08L134.3,350.08L134.8,350.08L135.3,350.50L135.8,350.50L136.3,350.50L136.8,350.50L137.3,350.50L137.8,350.50L138.3,350.50L138.8,350.50L139.3,350.50L139.8,350.50L140.3,350.50L140.8,350.50L141.3,350.50L141.8,350.50L142.3,350.50L142.8,350.50L143.3,350.50L143.8,350.50L144.3,350.50L144.8,350.50L145.3,350.50L145.8,350.50L146.3,350.50L146.8,350.50L147.3,350.08L147.8,350.08L148.3,350.08L148.8,350.08L149.3,350.08L149.8,350.08L150.3,350.50L150.8,350.50L151.3,350.50L151.8,350.50L152.3,350.50L152.8,350.50L153.3,350.50L153.8,350.50L154.3,350.50L154.8,350.50L155.3,350.50L155.8,350.50L156.3,350.50L156.8,350.50L157.3,350.50L157.8,350.50L158.3,350.50L158.8,350.50L159.3,350.50L159.8,350.50L160.3,350.08L160.8,350.08L161.3,350.08L161.8,350.08L162.3,350.08L162.8,350.08L163.3,350.08L163.8,350.08L164.3,350.08L164.8,350.08L165.3,350.50L165.8,350.50L166.3,350.50L166.8,350.50L167.3,350.50L167.8,350.50L168.3,350.50L168.8,350.50L169.3,350.50L169.8,350.50L170.3,350.08L170.8,350.08L171.3,350.08L171.8,350.08L172.3,350.08L172.8,350.08L173.3,350.50L173.8,350.50L174.3,350.50L174.8,350.50L175.3,350.50L175.8,350.50L176.3,350.50L176.8,350.50L177.3,350.50L177.8,350.50L178.3,350.50L178.8,350.50L179.3,350.49L179.8,350.48L180.3,350.45L180.8,350.39L181.3,350.29L181.8,350.13L182.3,349.91L182.8,349.65L183.3,349.39L183.8,349.20L184.3,349.10L184.8,349.14L185.3,349.30L185.8,349.54L186.3,349.81L186.8,350.04L187.3,350.22L187.8,350.34L188.3,350.39L188.8,350.38L189.3,350.32L189.8,350.19L190.3,349.98L190.8,349.72L191.3,349.42L191.8,349.14L192.3,348.92L192.8,348.82L193.3,348.84L193.8,348.92L194.3,349.00L194.8,349.00L195.3,348.88L195.8,348.61L196.3,348.25L196.8,347.87L197.3,347.52L197.8,347.19L198.3,346.78L198.8,346.06L199.3,344.75L199.8,342.69L200.3,339.98L200.8,337.11L201.3,334.88L201.8,334.06L202.3,334.96L202.8,337.29L203.3,340.32L203.8,343.26L204.3,345.60L204.8,347.21L205.3,348.19L205.8,348.77L206.3,349.13L206.8,349.38L207.3,349.58L207.8,349.75L208.3,349.90L208.8,350.02L209.3,350.08L209.8,350.08L210.3,350.08L210.8,350.08L211.3,350.08L211.8,350.08L212.3,350.08L212.8,350.08L213.3,350.08L213.8,350.08L214.3,350.08L214.8,350.08L215.3,350.08L215.8,350.08L216.3,350.08L216.8,350.08L217.3,350.08L217.8,350.08L218.3,350.08L218.8,350.08L219.3,350.08L219.8,350.08L220.3,350.08L220.8,350.08L221.3,350.08L221.8,350.08L222.3,350.16L222.8,350.06L223.3,349.95L223.8,349.85L224.3,349.75L224.8,349.67L225.3,349.62L225.8,349.60L226.3,349.62L226.8,349.67L227.3,349.75L227.8,349.85L228.3,349.95L228.8,350.06L229.3,350.16L229.8,350.25L230.3,350.31L230.8,350.36L231.3,350.38L231.8,350.38L232.3,350.35L232.8,350.29L233.3,350.20L233.8,350.08L234.3,349.95L234.8,349.82L235.3,349.71L235.8,349.63L236.3,349.60L236.8,349.63L237.3,349.71L237.8,349.82L238.3,349.95L238.8,350.09L239.3,350.20L239.8,350.29L240.3,350.36L240.8,350.39L241.3,350.38L241.8,350.34L242.3,350.27L242.8,350.14L243.3,349.97L243.8,349.76L244.3,349.50L244.8,349.23L245.3,348.96L245.8,348.73L246.3,348.57L246.8,348.50L247.3,348.53L247.8,348.66L248.3,348.87L248.8,349.12L249.3,349.40L249.8,349.66L250.3,349.89L250.8,350.08L251.3,350.23L251.8,350.33L252.3,350.39L252.8,350.41L253.3,350.39L253.8,350.32L254.3,350.17L254.8,349.92L255.3,349.57L255.8,349.13L256.3,348.69L256.8,348.32L257.3,348.12L257.8,348.14L258.3,348.38L258.8,348.77L259.3,349.23L259.8,349.65L260.3,349.98L260.8,350.21L261.3,350.36L261.8,350.44L262.3,350.47L262.8,350.49L263.3,350.50L263.8,350.50L264.3,350.50L264.8,350.50L265.3,350.50L265.8,350.50L266.3,350.08L266.8,350.08L267.3,350.08L267.8,350.08L268.3,350.08L268.8,350.08L269.3,350.08L269.8,350.08L270.3,350.50L270.8,350.50L271.3,350.50L271.8,350.50L272.3,350.50L272.8,350.50L273.3,350.50L273.8,350.50L274.3,350.50L274.8,350.50L275.3,350.50L275.8,350.50L276.3,350.50L276.8,350.50L277.3,350.50L277.8,350.50L278.3,350.50L278.8,350.50L279.3,350.50L279.8,350.50L280.3,350.50L280.8,350.50L281.3,350.50L281.8,350.50L282.3,350.50L282.8,350.50L283.3,350.08L283.8,350.08L284.3,350.08L284.8,350.08L285.3,350.08L285.8,350.08L286.3,350.50L286.8,350.50L287.3,350.50L287.8,350.50L288.3,350.50L288.8,350.50L289.3,350.50L289.8,350.50L290.3,350.50L290.8,350.50L291.3,350.50L291.8,350.50L292.3,350.08L292.8,350.08L293.3,350.08L293.8,350.08L294.3,350.08L294.8,350.08L295.3,350.08L295.8,350.08L296.3,350.50L296.8,350.50L297.0,350.5Z" fill="#d4559a" opacity="1.0"/>
<path d="M57.8,381.2L57.8,381.20L58.3,381.20L58.8,381.20L59.3,381.20L59.8,381.20L60.3,380.78L60.8,380.78L61.3,380.78L61.8,380.78L62.3,380.78L62.8,380.78L63.3,380.78L63.8,380.78L64.3,381.20L64.8,381.20L65.3,381.20L65.8,381.20L66.3,381.20L66.8,381.20L67.3,381.20L67.8,381.20L68.3,381.20L68.8,381.20L69.3,381.20L69.8,381.20L70.3,381.20L70.8,381.20L71.3,381.20L71.8,381.20L72.3,380.78L72.8,380.78L73.3,380.78L73.8,380.78L74.3,380.78L74.8,380.78L75.3,380.78L75.8,380.78L76.3,381.20L76.8,381.20L77.3,381.20L77.8,381.20L78.3,381.20L78.8,381.20L79.3,381.20L79.8,381.20L80.3,380.78L80.8,380.78L81.3,380.78L81.8,380.78L82.3,380.78L82.8,380.78L83.3,380.78L83.8,380.78L84.3,380.78L84.8,380.78L85.3,381.20L85.8,381.20L86.3,381.20L86.8,381.20L87.3,381.20L87.8,381.20L88.3,380.78L88.8,380.78L89.3,380.78L89.8,380.78L90.3,380.78L90.8,380.78L91.3,380.78L91.8,380.78L92.3,380.78L92.8,380.78L93.3,380.78L93.8,380.78L94.3,381.19L94.8,381.18L95.3,381.15L95.8,381.07L96.3,380.90L96.8,380.63L97.3,380.25L97.8,379.82L98.3,379.47L98.8,379.32L99.3,379.41L99.8,379.70L100.3,380.06L100.8,380.37L101.3,380.55L101.8,380.61L102.3,380.55L102.8,380.38L103.3,380.08L103.8,379.58L104.3,378.84L104.8,377.86L105.3,376.78L105.8,375.74L106.3,374.74L106.8,373.46L107.3,371.51L107.8,368.69L108.3,365.39L108.8,362.54L109.3,361.18L109.8,361.88L110.3,364.48L110.8,368.13L111.3,371.85L111.8,374.90L112.3,377.03L112.8,378.35L113.3,379.10L113.8,379.55L114.3,379.84L114.8,380.06L115.3,380.25L115.8,380.42L116.3,380.57L116.8,380.69L117.3,380.78L117.8,380.78L118.3,380.78L118.8,380.78L119.3,380.78L119.8,380.78L120.3,380.78L120.8,380.78L121.3,380.78L121.8,380.78L122.3,381.18L122.8,381.19L123.3,381.19L123.8,381.20L124.3,381.20L124.8,381.20L125.3,381.20L125.8,381.20L126.3,381.20L126.8,381.20L127.3,381.20L127.8,381.20L128.3,381.20L128.8,381.20L129.3,381.20L129.8,381.20L130.3,380.78L130.8,380.78L131.3,380.78L131.8,380.78L132.3,380.78L132.8,380.78L133.3,380.78L133.8,380.78L134.3,381.20L134.8,381.20L135.3,381.20L135.8,381.20L136.3,381.20L136.8,381.20L137.3,381.20L137.8,381.20L138.3,381.20L138.8,381.20L139.3,381.20L139.8,381.20L140.3,381.20L140.8,381.20L141.3,380.78L141.8,380.78L142.3,380.78L142.8,380.78L143.3,380.78L143.8,380.78L144.3,380.78L144.8,380.78L145.3,380.78L145.8,380.78L146.3,381.20L146.8,381.20L147.3,381.20L147.8,381.20L148.3,381.20L148.8,381.20L149.3,381.20L149.8,381.20L150.3,380.78L150.8,380.78L151.3,380.78L151.8,380.78L152.3,380.78L152.8,380.78L153.3,380.78L153.8,380.78L154.3,380.78L154.8,380.78L155.3,380.78L155.8,380.78L156.3,380.78L156.8,380.78L157.3,380.78L157.8,380.78L158.3,380.78L158.8,380.78L159.3,380.78L159.8,380.78L160.3,381.20L160.8,381.20L161.3,381.20L161.8,381.20L162.3,381.20L162.8,381.20L163.3,381.20L163.8,381.20L164.3,381.20L164.8,381.20L165.3,380.78L165.8,380.78L166.3,380.78L166.8,380.78L167.3,380.78L167.8,380.78L168.3,380.78L168.8,380.78L169.3,380.78L169.8,380.78L170.3,380.78L170.8,380.78L171.3,380.78L171.8,380.78L172.3,380.78L172.8,380.78L173.3,380.78L173.8,380.78L174.3,380.78L174.8,380.78L175.3,380.78L175.8,380.77L176.3,380.62L176.8,380.48L177.3,380.36L177.8,380.30L178.3,380.31L178.8,380.37L179.3,380.47L179.8,380.58L180.3,380.67L180.8,380.71L181.3,380.68L181.8,380.58L182.3,380.44L182.8,380.29L183.3,380.17L183.8,380.10L184.3,380.10L184.8,380.16L185.3,380.26L185.8,380.35L186.3,380.41L186.8,380.40L187.3,380.34L187.8,380.27L188.3,380.24L188.8,380.28L189.3,380.39L189.8,380.55L190.3,380.72L190.8,380.78L191.3,380.78L191.8,380.78L192.3,380.73L192.8,380.39L193.3,379.87L193.8,379.22L194.3,378.59L194.8,378.15L195.3,378.04L195.8,378.23L196.3,378.59L196.8,378.92L197.3,379.08L197.8,378.96L198.3,378.43L198.8,377.25L199.3,375.06L199.8,371.61L200.3,367.08L200.8,362.39L201.3,358.95L201.8,358.06L202.3,360.08L202.8,364.20L203.3,368.98L203.8,373.15L204.3,376.09L204.8,377.87L205.3,378.85L205.8,379.38L206.3,379.72L206.8,379.97L207.3,380.19L207.8,380.37L208.3,380.53L208.8,380.67L209.3,380.78L209.8,380.78L210.3,380.78L210.8,380.78L211.3,380.78L211.8,380.66L212.3,380.45L212.8,380.20L213.3,379.98L213.8,379.82L214.3,379.79L214.8,379.89L215.3,380.09L215.8,380.35L216.3,380.61L216.8,380.83L217.3,380.99L217.8,381.09L218.3,380.78L218.8,380.78L219.3,380.78L219.8,380.78L220.3,380.78L220.8,380.78L221.3,380.78L221.8,380.78L222.3,380.78L222.8,380.78L223.3,380.78L223.8,380.78L224.3,380.78L224.8,380.78L225.3,380.78L225.8,380.78L226.3,380.78L226.8,380.78L227.3,380.78L227.8,380.78L228.3,380.78L228.8,380.78L229.3,380.78L229.8,380.78L230.3,380.78L230.8,380.78L231.3,380.78L231.8,380.78L232.3,380.78L232.8,380.78L233.3,380.78L233.8,380.78L234.3,380.78L234.8,380.78L235.3,380.78L235.8,380.78L236.3,380.71L236.8,380.56L237.3,380.43L237.8,380.33L238.3,380.30L238.8,380.33L239.3,380.43L239.8,380.56L240.3,380.71L240.8,380.78L241.3,380.78L241.8,380.78L242.3,380.78L242.8,380.78L243.3,380.78L243.8,380.65L244.3,380.42L244.8,380.16L245.3,379.89L245.8,379.65L246.3,379.48L246.8,379.40L247.3,379.44L247.8,379.57L248.3,379.79L248.8,380.05L249.3,380.32L249.8,380.57L250.3,380.78L250.8,380.93L251.3,381.04L251.8,381.11L252.3,381.14L252.8,381.15L253.3,381.11L253.8,380.99L254.3,380.77L254.8,380.37L255.3,379.77L255.8,378.99L256.3,378.15L256.8,377.43L257.3,377.04L257.8,377.08L258.3,377.56L258.8,378.31L259.3,379.16L259.8,379.90L260.3,380.46L260.8,380.83L261.3,381.03L261.8,381.13L262.3,380.78L262.8,380.78L263.3,380.78L263.8,380.78L264.3,380.78L264.8,380.78L265.3,380.78L265.8,380.78L266.3,380.78L266.8,380.78L267.3,380.78L267.8,380.78L268.3,381.20L268.8,381.20L269.3,381.20L269.8,381.20L270.3,381.20L270.8,381.20L271.3,381.20L271.8,381.20L272.3,380.78L272.8,380.78L273.3,380.78L273.8,380.78L274.3,380.78L274.8,380.78L275.3,381.20L275.8,381.20L276.3,381.20L276.8,381.20L277.3,381.20L277.8,381.20L278.3,381.20L278.8,381.20L279.3,381.20L279.8,381.20L280.3,381.20L280.8,381.20L281.3,381.20L281.8,381.20L282.3,381.20L282.8,381.20L283.3,380.78L283.8,380.78L284.3,380.78L284.8,380.78L285.3,380.78L285.8,380.78L286.3,381.20L286.8,381.20L287.3,381.20L287.8,381.20L288.3,381.20L288.8,381.20L289.3,381.20L289.8,381.20L290.3,381.20L290.8,381.20L291.3,381.20L291.8,381.20L292.3,381.20L292.8,381.20L293.3,380.78L293.8,380.78L294.3,380.78L294.8,380.78L295.3,380.78L295.8,380.78L296.3,381.20L296.8,381.20L297.0,381.2Z" fill="#d4559a" opacity="1.0"/>
<line x1="57.5" y1="392.5" x2="281" y2="392.5" stroke="#333" stroke-width="0.8"/>
<path d="M60,391.3 L61.2,392.4 L60,393.5" stroke="#777" stroke-width="0.45" fill="none"/>
<path d="M64,391.3 L65.2,392.4 L64,393.5" stroke="#777" stroke-width="0.45" fill="none"/>
<path d="M68,391.3 L69.2,392.4 L68,393.5" stroke="#777" stroke-width="0.45" fill="none"/>
<path d="M72,391.3 L73.2,392.4 L72,393.5" stroke="#777" stroke-width="0.45" fill="none"/>
<path d="M76,391.3 L77.2,392.4 L76,393.5" stroke="#777" stroke-width="0.45" fill="none"/>
<path d="M80,391.3 L81.2,392.4 L80,393.5" stroke="#777" stroke-width="0.45" fill="none"/>
<path d="M84,391.3 L85.2,392.4 L84,393.5" stroke="#777" stroke-width="0.45" fill="none"/>
<path d="M88,391.3 L89.2,392.4 L88,393.5" stroke="#777" stroke-width="0.45" fill="none"/>
<path d="M92,391.3 L93.2,392.4 L92,393.5" stroke="#777" stroke-width="0.45" fill="none"/>
<path d="M96,391.3 L97.2,392.4 L96,393.5" stroke="#777" stroke-width="0.45" fill="none"/>
<path d="M100,391.3 L101.2,392.4 L100,393.5" stroke="#777" stroke-width="0.45" fill="none"/>
<path d="M104,391.3 L105.2,392.4 L104,393.5" stroke="#777" stroke-width="0.45" fill="none"/>
<path d="M108,391.3 L109.2,392.4 L108,393.5" stroke="#777" stroke-width="0.45" fill="none"/>
<path d="M112,391.3 L113.2,392.4 L112,393.5" stroke="#777" stroke-width="0.45" fill="none"/>
<path d="M116,391.3 L117.2,392.4 L116,393.5" stroke="#777" stroke-width="0.45" fill="none"/>
<path d="M120,391.3 L121.2,392.4 L120,393.5" stroke="#777" stroke-width="0.45" fill="none"/>
<path d="M124,391.3 L125.2,392.4 L124,393.5" stroke="#777" stroke-width="0.45" fill="none"/>
<path d="M128,391.3 L129.2,392.4 L128,393.5" stroke="#777" stroke-width="0.45" fill="none"/>
<path d="M132,391.3 L133.2,392.4 L132,393.5" stroke="#777" stroke-width="0.45" fill="none"/>
<path d="M136,391.3 L137.2,392.4 L136,393.5" stroke="#777" stroke-width="0.45" fill="none"/>
<path d="M140,391.3 L141.2,392.4 L140,393.5" stroke="#777" stroke-width="0.45" fill="none"/>
<path d="M144,391.3 L145.2,392.4 L144,393.5" stroke="#777" stroke-width="0.45" fill="none"/>
<path d="M148,391.3 L149.2,392.4 L148,393.5" stroke="#777" stroke-width="0.45" fill="none"/>
<path d="M152,391.3 L153.2,392.4 L152,393.5" stroke="#777" stroke-width="0.45" fill="none"/>
<path d="M156,391.3 L157.2,392.4 L156,393.5" stroke="#777" stroke-width="0.45" fill="none"/>
<path d="M160,391.3 L161.2,392.4 L160,393.5" stroke="#777" stroke-width="0.45" fill="none"/>
<path d="M164,391.3 L165.2,392.4 L164,393.5" stroke="#777" stroke-width="0.45" fill="none"/>
<path d="M168,391.3 L169.2,392.4 L168,393.5" stroke="#777" stroke-width="0.45" fill="none"/>
<path d="M172,391.3 L173.2,392.4 L172,393.5" stroke="#777" stroke-width="0.45" fill="none"/>
<path d="M176,391.3 L177.2,392.4 L176,393.5" stroke="#777" stroke-width="0.45" fill="none"/>
<path d="M180,391.3 L181.2,392.4 L180,393.5" stroke="#777" stroke-width="0.45" fill="none"/>
<path d="M184,391.3 L185.2,392.4 L184,393.5" stroke="#777" stroke-width="0.45" fill="none"/>
<path d="M188,391.3 L189.2,392.4 L188,393.5" stroke="#777" stroke-width="0.45" fill="none"/>
<path d="M192,391.3 L193.2,392.4 L192,393.5" stroke="#777" stroke-width="0.45" fill="none"/>
<path d="M196,391.3 L197.2,392.4 L196,393.5" stroke="#777" stroke-width="0.45" fill="none"/>
<path d="M200,391.3 L201.2,392.4 L200,393.5" stroke="#777" stroke-width="0.45" fill="none"/>
<path d="M204,391.3 L205.2,392.4 L204,393.5" stroke="#777" stroke-width="0.45" fill="none"/>
<path d="M208,391.3 L209.2,392.4 L208,393.5" stroke="#777" stroke-width="0.45" fill="none"/>
<path d="M212,391.3 L213.2,392.4 L212,393.5" stroke="#777" stroke-width="0.45" fill="none"/>
<path d="M216,391.3 L217.2,392.4 L216,393.5" stroke="#777" stroke-width="0.45" fill="none"/>
<path d="M220,391.3 L221.2,392.4 L220,393.5" stroke="#777" stroke-width="0.45" fill="none"/>
<path d="M224,391.3 L225.2,392.4 L224,393.5" stroke="#777" stroke-width="0.45" fill="none"/>
<path d="M228,391.3 L229.2,392.4 L228,393.5" stroke="#777" stroke-width="0.45" fill="none"/>
<path d="M232,391.3 L233.2,392.4 L232,393.5" stroke="#777" stroke-width="0.45" fill="none"/>
<path d="M236,391.3 L237.2,392.4 L236,393.5" stroke="#777" stroke-width="0.45" fill="none"/>
<path d="M240,391.3 L241.2,392.4 L240,393.5" stroke="#777" stroke-width="0.45" fill="none"/>
<path d="M244,391.3 L245.2,392.4 L244,393.5" stroke="#777" stroke-width="0.45" fill="none"/>
<path d="M248,391.3 L249.2,392.4 L248,393.5" stroke="#777" stroke-width="0.45" fill="none"/>
<text x="57.0" y="394.3" font-size="4.8" text-anchor="end" fill="#555" stroke="#555" stroke-width="0.05">SKI</text>
<rect x="217.5" y="389.2" width="1.6" height="6.6" fill="#000"/>
<rect x="220" y="389.2" width="1.3" height="6.6" fill="#000"/>
<rect x="225.6" y="389.2" width="2.5" height="6.6" fill="#000"/>
<rect x="229.4" y="389.2" width="2.9" height="6.6" fill="#000"/>
<rect x="245" y="389.2" width="1.7" height="6.6" fill="#000"/>
<rect x="250.1" y="389.2" width="1.7" height="6.6" fill="#000"/>
<rect x="251.5" y="390.5" width="29.8" height="4" fill="#000"/>
<text x="381.3" y="223.8" font-size="9.75" font-weight="bold" fill="#000" stroke="#000" stroke-width="0.15">U937 AML1-ETO</text>
<text x="371.0" y="243.9" font-size="9.7" fill="#000" stroke="#000" stroke-width="0.1">AML1-ETO</text>
<text x="447.9" y="243.9" font-size="9.5" fill="#000" stroke="#000" stroke-width="0.1">FLI1</text>
<text x="340.2" y="257.3" font-size="9.9" fill="#000" stroke="#000" stroke-width="0.1">zinc</text>
<text x="378.1" y="257.3" font-size="9.7" text-anchor="middle" fill="#000" stroke="#000" stroke-width="0.1">-</text>
<text x="409.8" y="257.3" font-size="9.7" text-anchor="middle" fill="#000" stroke="#000" stroke-width="0.1">+</text>
<text x="442.1" y="257.3" font-size="9.7" text-anchor="middle" fill="#000" stroke="#000" stroke-width="0.1">-</text>
<text x="475.0" y="257.3" font-size="9.7" text-anchor="middle" fill="#000" stroke="#000" stroke-width="0.1">+</text>
<text x="354.4" y="330" font-size="9.7" text-anchor="middle" fill="#000" stroke="#000" stroke-width="0.1" transform="rotate(-90 354.4 330)">% tags/kb (10<tspan font-size="6" dy="-3.5">-4</tspan><tspan dy="3.5">)</tspan></text>
<defs><linearGradient id="hm" x1="0" y1="0" x2="1" y2="0"><stop offset="0.0000" stop-color="#f9ceca"/><stop offset="0.0460" stop-color="#f8cac6"/><stop offset="0.0921" stop-color="#f7c6c2"/><stop offset="0.1044" stop-color="#f5beba"/><stop offset="0.1190" stop-color="#eea4a0"/><stop offset="0.1335" stop-color="#f5bcb8"/><stop offset="0.1535" stop-color="#f6c6c2"/><stop offset="0.1995" stop-color="#f8ccc8"/><stop offset="0.2379" stop-color="#f8ceca"/><stop offset="0.2533" stop-color="#fadedc"/><stop offset="0.2916" stop-color="#fbe4e4"/><stop offset="0.3223" stop-color="#fceaee"/><stop offset="0.3492" stop-color="#fae0e2"/><stop offset="0.3569" stop-color="#f0b4b4"/><stop offset="0.3929" stop-color="#f4c4c4"/><stop offset="0.4029" stop-color="#fbe4e2"/><stop offset="0.4451" stop-color="#fce8e6"/><stop offset="0.4950" stop-color="#fbe4e2"/><stop offset="0.5104" stop-color="#f7beba"/><stop offset="0.5526" stop-color="#f5b4b0"/><stop offset="0.5986" stop-color="#f2a8a5"/><stop offset="0.6163" stop-color="#ee9694"/><stop offset="0.6539" stop-color="#f0a09e"/><stop offset="0.6677" stop-color="#f3aca9"/><stop offset="0.7061" stop-color="#f5b6b2"/><stop offset="0.7329" stop-color="#f8c8c4"/><stop offset="0.7483" stop-color="#f9d0cc"/><stop offset="0.7675" stop-color="#f7c0bc"/><stop offset="0.8289" stop-color="#f5b8b4"/><stop offset="0.8565" stop-color="#f2acaa"/><stop offset="0.8964" stop-color="#f2aeac"/><stop offset="0.9133" stop-color="#f5bab6"/><stop offset="0.9517" stop-color="#f7c2be"/><stop offset="1.0000" stop-color="#f8c8c4"/></linearGradient></defs>
<rect x="360.0" y="265.5" width="130.30" height="139.30" fill="url(#hm)"/>
<rect x="392.5" y="268.5" width="33.0" height="1" fill="#b01020" opacity="0.013"/>
<rect x="360" y="269.5" width="32.5" height="1" fill="#b01020" opacity="0.031"/>
<rect x="392.5" y="269.5" width="33.0" height="1" fill="#b01020" opacity="0.096"/>
<rect x="425.5" y="269.5" width="32.5" height="1" fill="#b01020" opacity="0.050"/>
<rect x="458" y="269.5" width="32.3" height="1" fill="#b01020" opacity="0.039"/>
<rect x="360" y="271.5" width="32.5" height="1" fill="#b01020" opacity="0.016"/>
<rect x="392.5" y="271.5" width="33.0" height="1" fill="#b01020" opacity="0.030"/>
<rect x="392.5" y="273.5" width="33.0" height="1" fill="#b01020" opacity="0.028"/>
<rect x="425.5" y="273.5" width="32.5" height="1" fill="#b01020" opacity="0.020"/>
<rect x="360" y="274.5" width="32.5" height="1" fill="#b01020" opacity="0.021"/>
<rect x="392.5" y="274.5" width="33.0" height="1" fill="#b01020" opacity="0.049"/>
<rect x="425.5" y="274.5" width="32.5" height="1" fill="#b01020" opacity="0.037"/>
<rect x="360" y="275.5" width="32.5" height="1" fill="#b01020" opacity="0.037"/>
<rect x="392.5" y="275.5" width="33.0" height="1" fill="#b01020" opacity="0.061"/>
<rect x="425.5" y="275.5" width="32.5" height="1" fill="#b01020" opacity="0.088"/>
<rect x="458" y="275.5" width="32.3" height="1" fill="#b01020" opacity="0.040"/>
<rect x="392.5" y="276.5" width="33.0" height="1" fill="#b01020" opacity="0.022"/>
<rect x="425.5" y="276.5" width="32.5" height="1" fill="#b01020" opacity="0.030"/>
<rect x="458" y="276.5" width="32.3" height="1" fill="#b01020" opacity="0.015"/>
<rect x="360" y="277.5" width="32.5" height="1" fill="#b01020" opacity="0.040"/>
<rect x="392.5" y="277.5" width="33.0" height="1" fill="#b01020" opacity="0.071"/>
<rect x="425.5" y="277.5" width="32.5" height="1" fill="#b01020" opacity="0.063"/>
<rect x="458" y="277.5" width="32.3" height="1" fill="#b01020" opacity="0.061"/>
<rect x="360" y="278.5" width="32.5" height="1" fill="#b01020" opacity="0.032"/>
<rect x="392.5" y="278.5" width="33.0" height="1" fill="#b01020" opacity="0.040"/>
<rect x="458" y="278.5" width="32.3" height="1" fill="#b01020" opacity="0.018"/>
<rect x="360" y="283.5" width="32.5" height="1" fill="#b01020" opacity="0.047"/>
<rect x="392.5" y="283.5" width="33.0" height="1" fill="#b01020" opacity="0.041"/>
<rect x="425.5" y="283.5" width="32.5" height="1" fill="#b01020" opacity="0.045"/>
<rect x="392.5" y="284.5" width="33.0" height="1" fill="#b01020" opacity="0.031"/>
<rect x="425.5" y="284.5" width="32.5" height="1" fill="#b01020" opacity="0.036"/>
<rect x="360" y="287.5" width="32.5" height="1" fill="#b01020" opacity="0.080"/>
<rect x="392.5" y="287.5" width="33.0" height="1" fill="#b01020" opacity="0.066"/>
<rect x="425.5" y="287.5" width="32.5" height="1" fill="#b01020" opacity="0.074"/>
<rect x="458" y="287.5" width="32.3" height="1" fill="#b01020" opacity="0.078"/>
<rect x="360" y="292.5" width="32.5" height="1" fill="#b01020" opacity="0.064"/>
<rect x="392.5" y="292.5" width="33.0" height="1" fill="#b01020" opacity="0.027"/>
<rect x="425.5" y="292.5" width="32.5" height="1" fill="#b01020" opacity="0.035"/>
<rect x="458" y="292.5" width="32.3" height="1" fill="#b01020" opacity="0.043"/>
<rect x="392.5" y="293.5" width="33.0" height="1" fill="#b01020" opacity="0.022"/>
<rect x="425.5" y="293.5" width="32.5" height="1" fill="#b01020" opacity="0.033"/>
<rect x="360" y="295.5" width="32.5" height="1" fill="#b01020" opacity="0.022"/>
<rect x="392.5" y="295.5" width="33.0" height="1" fill="#b01020" opacity="0.011"/>
<rect x="425.5" y="295.5" width="32.5" height="1" fill="#b01020" opacity="0.086"/>
<rect x="458" y="295.5" width="32.3" height="1" fill="#b01020" opacity="0.052"/>
<rect x="360" y="297.5" width="32.5" height="1" fill="#b01020" opacity="0.069"/>
<rect x="392.5" y="297.5" width="33.0" height="1" fill="#b01020" opacity="0.034"/>
<rect x="425.5" y="297.5" width="32.5" height="1" fill="#b01020" opacity="0.043"/>
<rect x="458" y="297.5" width="32.3" height="1" fill="#b01020" opacity="0.027"/>
<rect x="360" y="298.5" width="32.5" height="1" fill="#b01020" opacity="0.045"/>
<rect x="392.5" y="298.5" width="33.0" height="1" fill="#b01020" opacity="0.065"/>
<rect x="425.5" y="298.5" width="32.5" height="1" fill="#b01020" opacity="0.029"/>
<rect x="458" y="298.5" width="32.3" height="1" fill="#b01020" opacity="0.020"/>
<rect x="360" y="299.5" width="32.5" height="1" fill="#b01020" opacity="0.086"/>
<rect x="392.5" y="299.5" width="33.0" height="1" fill="#b01020" opacity="0.076"/>
<rect x="425.5" y="299.5" width="32.5" height="1" fill="#b01020" opacity="0.072"/>
<rect x="458" y="299.5" width="32.3" height="1" fill="#b01020" opacity="0.073"/>
<rect x="360" y="300.5" width="32.5" height="1" fill="#b01020" opacity="0.017"/>
<rect x="392.5" y="300.5" width="33.0" height="1" fill="#b01020" opacity="0.040"/>
<rect x="425.5" y="300.5" width="32.5" height="1" fill="#b01020" opacity="0.027"/>
<rect x="360" y="302.5" width="32.5" height="1" fill="#b01020" opacity="0.039"/>
<rect x="392.5" y="302.5" width="33.0" height="1" fill="#b01020" opacity="0.043"/>
<rect x="425.5" y="302.5" width="32.5" height="1" fill="#b01020" opacity="0.040"/>
<rect x="360" y="304.5" width="32.5" height="1" fill="#b01020" opacity="0.085"/>
<rect x="392.5" y="304.5" width="33.0" height="1" fill="#b01020" opacity="0.056"/>
<rect x="425.5" y="304.5" width="32.5" height="1" fill="#b01020" opacity="0.070"/>
<rect x="458" y="304.5" width="32.3" height="1" fill="#b01020" opacity="0.082"/>
<rect x="392.5" y="306.5" width="33.0" height="1" fill="#b01020" opacity="0.030"/>
<rect x="458" y="306.5" width="32.3" height="1" fill="#b01020" opacity="0.031"/>
<rect x="360" y="307.5" width="32.5" height="1" fill="#b01020" opacity="0.058"/>
<rect x="392.5" y="307.5" width="33.0" height="1" fill="#b01020" opacity="0.059"/>
<rect x="425.5" y="307.5" width="32.5" height="1" fill="#b01020" opacity="0.102"/>
<rect x="458" y="307.5" width="32.3" height="1" fill="#b01020" opacity="0.085"/>
<rect x="425.5" y="310.5" width="32.5" height="1" fill="#b01020" opacity="0.054"/>
<rect x="458" y="310.5" width="32.3" height="1" fill="#b01020" opacity="0.028"/>
<rect x="360" y="311.5" width="32.5" height="1" fill="#b01020" opacity="0.048"/>
<rect x="425.5" y="311.5" width="32.5" height="1" fill="#b01020" opacity="0.043"/>
<rect x="458" y="311.5" width="32.3" height="1" fill="#b01020" opacity="0.039"/>
<rect x="425.5" y="313.5" width="32.5" height="1" fill="#b01020" opacity="0.014"/>
<rect x="360" y="314.5" width="32.5" height="1" fill="#b01020" opacity="0.012"/>
<rect x="392.5" y="314.5" width="33.0" height="1" fill="#b01020" opacity="0.037"/>
<rect x="458" y="314.5" width="32.3" height="1" fill="#b01020" opacity="0.038"/>
<rect x="360" y="315.5" width="32.5" height="1" fill="#b01020" opacity="0.013"/>
<rect x="392.5" y="315.5" width="33.0" height="1" fill="#b01020" opacity="0.012"/>
<rect x="360" y="317.5" width="32.5" height="1" fill="#b01020" opacity="0.042"/>
<rect x="392.5" y="317.5" width="33.0" height="1" fill="#b01020" opacity="0.023"/>
<rect x="425.5" y="317.5" width="32.5" height="1" fill="#b01020" opacity="0.038"/>
<rect x="458" y="317.5" width="32.3" height="1" fill="#b01020" opacity="0.041"/>
<rect x="360" y="318.5" width="32.5" height="1" fill="#b01020" opacity="0.013"/>
<rect x="392.5" y="318.5" width="33.0" height="1" fill="#b01020" opacity="0.049"/>
<rect x="425.5" y="318.5" width="32.5" height="1" fill="#b01020" opacity="0.024"/>
<rect x="458" y="318.5" width="32.3" height="1" fill="#b01020" opacity="0.026"/>
<rect x="360" y="319.5" width="32.5" height="1" fill="#b01020" opacity="0.043"/>
<rect x="392.5" y="319.5" width="33.0" height="1" fill="#b01020" opacity="0.048"/>
<rect x="425.5" y="319.5" width="32.5" height="1" fill="#b01020" opacity="0.063"/>
<rect x="458" y="319.5" width="32.3" height="1" fill="#b01020" opacity="0.076"/>
<rect x="360" y="320.5" width="32.5" height="1" fill="#b01020" opacity="0.012"/>
<rect x="458" y="320.5" width="32.3" height="1" fill="#b01020" opacity="0.019"/>
<rect x="425.5" y="321.5" width="32.5" height="1" fill="#b01020" opacity="0.040"/>
<rect x="458" y="321.5" width="32.3" height="1" fill="#b01020" opacity="0.020"/>
<rect x="360" y="322.5" width="32.5" height="1" fill="#b01020" opacity="0.091"/>
<rect x="392.5" y="322.5" width="33.0" height="1" fill="#b01020" opacity="0.036"/>
<rect x="425.5" y="322.5" width="32.5" height="1" fill="#b01020" opacity="0.060"/>
<rect x="458" y="322.5" width="32.3" height="1" fill="#b01020" opacity="0.091"/>
<rect x="360" y="323.5" width="32.5" height="1" fill="#b01020" opacity="0.022"/>
<rect x="392.5" y="323.5" width="33.0" height="1" fill="#b01020" opacity="0.021"/>
<rect x="425.5" y="323.5" width="32.5" height="1" fill="#b01020" opacity="0.046"/>
<rect x="458" y="323.5" width="32.3" height="1" fill="#b01020" opacity="0.017"/>
<rect x="458" y="324.5" width="32.3" height="1" fill="#b01020" opacity="0.011"/>
<rect x="360" y="326.5" width="32.5" height="1" fill="#b01020" opacity="0.044"/>
<rect x="392.5" y="326.5" width="33.0" height="1" fill="#b01020" opacity="0.102"/>
<rect x="425.5" y="326.5" width="32.5" height="1" fill="#b01020" opacity="0.058"/>
<rect x="458" y="326.5" width="32.3" height="1" fill="#b01020" opacity="0.065"/>
<rect x="360" y="327.5" width="32.5" height="1" fill="#b01020" opacity="0.095"/>
<rect x="392.5" y="327.5" width="33.0" height="1" fill="#b01020" opacity="0.042"/>
<rect x="425.5" y="327.5" width="32.5" height="1" fill="#b01020" opacity="0.063"/>
<rect x="458" y="327.5" width="32.3" height="1" fill="#b01020" opacity="0.070"/>
<rect x="360" y="329.5" width="32.5" height="1" fill="#b01020" opacity="0.012"/>
<rect x="458" y="329.5" width="32.3" height="1" fill="#b01020" opacity="0.026"/>
<rect x="392.5" y="330.5" width="33.0" height="1" fill="#b01020" opacity="0.050"/>
<rect x="425.5" y="330.5" width="32.5" height="1" fill="#b01020" opacity="0.035"/>
<rect x="458" y="330.5" width="32.3" height="1" fill="#b01020" opacity="0.049"/>
<rect x="360" y="335.5" width="32.5" height="1" fill="#b01020" opacity="0.050"/>
<rect x="425.5" y="335.5" width="32.5" height="1" fill="#b01020" opacity="0.055"/>
<rect x="360" y="336.5" width="32.5" height="1" fill="#b01020" opacity="0.050"/>
<rect x="392.5" y="336.5" width="33.0" height="1" fill="#b01020" opacity="0.041"/>
<rect x="425.5" y="336.5" width="32.5" height="1" fill="#b01020" opacity="0.058"/>
<rect x="458" y="336.5" width="32.3" height="1" fill="#b01020" opacity="0.088"/>
<rect x="360" y="339.5" width="32.5" height="1" fill="#b01020" opacity="0.024"/>
<rect x="392.5" y="339.5" width="33.0" height="1" fill="#b01020" opacity="0.041"/>
<rect x="425.5" y="339.5" width="32.5" height="1" fill="#b01020" opacity="0.015"/>
<rect x="458" y="339.5" width="32.3" height="1" fill="#b01020" opacity="0.029"/>
<rect x="392.5" y="342.5" width="33.0" height="1" fill="#b01020" opacity="0.029"/>
<rect x="360" y="343.5" width="32.5" height="1" fill="#b01020" opacity="0.071"/>
<rect x="392.5" y="343.5" width="33.0" height="1" fill="#b01020" opacity="0.020"/>
<rect x="425.5" y="343.5" width="32.5" height="1" fill="#b01020" opacity="0.059"/>
<rect x="458" y="343.5" width="32.3" height="1" fill="#b01020" opacity="0.049"/>
<rect x="360" y="344.5" width="32.5" height="1" fill="#b01020" opacity="0.019"/>
<rect x="392.5" y="344.5" width="33.0" height="1" fill="#b01020" opacity="0.014"/>
<rect x="360" y="346.5" width="32.5" height="1" fill="#b01020" opacity="0.081"/>
<rect x="392.5" y="346.5" width="33.0" height="1" fill="#b01020" opacity="0.065"/>
<rect x="425.5" y="346.5" width="32.5" height="1" fill="#b01020" opacity="0.034"/>
<rect x="458" y="346.5" width="32.3" height="1" fill="#b01020" opacity="0.030"/>
<rect x="360" y="348.5" width="32.5" height="1" fill="#b01020" opacity="0.103"/>
<rect x="392.5" y="348.5" width="33.0" height="1" fill="#b01020" opacity="0.069"/>
<rect x="425.5" y="348.5" width="32.5" height="1" fill="#b01020" opacity="0.045"/>
<rect x="458" y="348.5" width="32.3" height="1" fill="#b01020" opacity="0.103"/>
<rect x="392.5" y="350.5" width="33.0" height="1" fill="#b01020" opacity="0.011"/>
<rect x="360" y="353.5" width="32.5" height="1" fill="#b01020" opacity="0.066"/>
<rect x="392.5" y="353.5" width="33.0" height="1" fill="#b01020" opacity="0.027"/>
<rect x="425.5" y="353.5" width="32.5" height="1" fill="#b01020" opacity="0.022"/>
<rect x="458" y="353.5" width="32.3" height="1" fill="#b01020" opacity="0.075"/>
<rect x="360" y="355.5" width="32.5" height="1" fill="#b01020" opacity="0.067"/>
<rect x="392.5" y="355.5" width="33.0" height="1" fill="#b01020" opacity="0.076"/>
<rect x="425.5" y="355.5" width="32.5" height="1" fill="#b01020" opacity="0.082"/>
<rect x="458" y="355.5" width="32.3" height="1" fill="#b01020" opacity="0.028"/>
<rect x="360" y="356.5" width="32.5" height="1" fill="#b01020" opacity="0.013"/>
<rect x="392.5" y="356.5" width="33.0" height="1" fill="#b01020" opacity="0.040"/>
<rect x="425.5" y="356.5" width="32.5" height="1" fill="#b01020" opacity="0.037"/>
<rect x="458" y="356.5" width="32.3" height="1" fill="#b01020" opacity="0.039"/>
<rect x="360" y="357.5" width="32.5" height="1" fill="#b01020" opacity="0.052"/>
<rect x="392.5" y="357.5" width="33.0" height="1" fill="#b01020" opacity="0.035"/>
<rect x="425.5" y="357.5" width="32.5" height="1" fill="#b01020" opacity="0.036"/>
<rect x="360" y="359.5" width="32.5" height="1" fill="#b01020" opacity="0.027"/>
<rect x="392.5" y="359.5" width="33.0" height="1" fill="#b01020" opacity="0.027"/>
<rect x="425.5" y="359.5" width="32.5" height="1" fill="#b01020" opacity="0.031"/>
<rect x="458" y="359.5" width="32.3" height="1" fill="#b01020" opacity="0.016"/>
<rect x="392.5" y="361.5" width="33.0" height="1" fill="#b01020" opacity="0.048"/>
<rect x="458" y="362.5" width="32.3" height="1" fill="#b01020" opacity="0.020"/>
<rect x="425.5" y="363.5" width="32.5" height="1" fill="#b01020" opacity="0.024"/>
<rect x="458" y="363.5" width="32.3" height="1" fill="#b01020" opacity="0.031"/>
<rect x="360" y="364.5" width="32.5" height="1" fill="#b01020" opacity="0.035"/>
<rect x="360" y="365.5" width="32.5" height="1" fill="#b01020" opacity="0.024"/>
<rect x="392.5" y="365.5" width="33.0" height="1" fill="#b01020" opacity="0.045"/>
<rect x="458" y="367.5" width="32.3" height="1" fill="#b01020" opacity="0.043"/>
<rect x="360" y="368.5" width="32.5" height="1" fill="#b01020" opacity="0.012"/>
<rect x="360" y="369.5" width="32.5" height="1" fill="#b01020" opacity="0.086"/>
<rect x="392.5" y="369.5" width="33.0" height="1" fill="#b01020" opacity="0.044"/>
<rect x="425.5" y="369.5" width="32.5" height="1" fill="#b01020" opacity="0.030"/>
<rect x="458" y="369.5" width="32.3" height="1" fill="#b01020" opacity="0.025"/>
<rect x="360" y="370.5" width="32.5" height="1" fill="#b01020" opacity="0.040"/>
<rect x="392.5" y="370.5" width="33.0" height="1" fill="#b01020" opacity="0.070"/>
<rect x="425.5" y="370.5" width="32.5" height="1" fill="#b01020" opacity="0.035"/>
<rect x="458" y="370.5" width="32.3" height="1" fill="#b01020" opacity="0.065"/>
<rect x="360" y="371.5" width="32.5" height="1" fill="#b01020" opacity="0.035"/>
<rect x="392.5" y="371.5" width="33.0" height="1" fill="#b01020" opacity="0.090"/>
<rect x="425.5" y="371.5" width="32.5" height="1" fill="#b01020" opacity="0.065"/>
<rect x="458" y="371.5" width="32.3" height="1" fill="#b01020" opacity="0.095"/>
<rect x="360" y="372.5" width="32.5" height="1" fill="#b01020" opacity="0.013"/>
<rect x="392.5" y="372.5" width="33.0" height="1" fill="#b01020" opacity="0.066"/>
<rect x="425.5" y="372.5" width="32.5" height="1" fill="#b01020" opacity="0.033"/>
<rect x="392.5" y="374.5" width="33.0" height="1" fill="#b01020" opacity="0.018"/>
<rect x="458" y="374.5" width="32.3" height="1" fill="#b01020" opacity="0.011"/>
<rect x="360" y="375.5" width="32.5" height="1" fill="#b01020" opacity="0.020"/>
<rect x="392.5" y="375.5" width="33.0" height="1" fill="#b01020" opacity="0.085"/>
<rect x="425.5" y="375.5" width="32.5" height="1" fill="#b01020" opacity="0.068"/>
<rect x="458" y="375.5" width="32.3" height="1" fill="#b01020" opacity="0.083"/>
<rect x="425.5" y="376.5" width="32.5" height="1" fill="#b01020" opacity="0.025"/>
<rect x="360" y="378.5" width="32.5" height="1" fill="#b01020" opacity="0.033"/>
<rect x="392.5" y="378.5" width="33.0" height="1" fill="#b01020" opacity="0.085"/>
<rect x="425.5" y="378.5" width="32.5" height="1" fill="#b01020" opacity="0.030"/>
<rect x="458" y="378.5" width="32.3" height="1" fill="#b01020" opacity="0.031"/>
<rect x="425.5" y="379.5" width="32.5" height="1" fill="#b01020" opacity="0.048"/>
<rect x="458" y="379.5" width="32.3" height="1" fill="#b01020" opacity="0.042"/>
<rect x="360" y="380.5" width="32.5" height="1" fill="#b01020" opacity="0.058"/>
<rect x="392.5" y="380.5" width="33.0" height="1" fill="#b01020" opacity="0.081"/>
<rect x="425.5" y="380.5" width="32.5" height="1" fill="#b01020" opacity="0.083"/>
<rect x="458" y="380.5" width="32.3" height="1" fill="#b01020" opacity="0.051"/>
<rect x="392.5" y="381.5" width="33.0" height="1" fill="#b01020" opacity="0.055"/>
<rect x="425.5" y="381.5" width="32.5" height="1" fill="#b01020" opacity="0.032"/>
<rect x="458" y="381.5" width="32.3" height="1" fill="#b01020" opacity="0.057"/>
<rect x="360" y="382.5" width="32.5" height="1" fill="#b01020" opacity="0.010"/>
<rect x="425.5" y="382.5" width="32.5" height="1" fill="#b01020" opacity="0.061"/>
<rect x="425.5" y="383.5" width="32.5" height="1" fill="#b01020" opacity="0.026"/>
<rect x="458" y="383.5" width="32.3" height="1" fill="#b01020" opacity="0.045"/>
<rect x="392.5" y="386.5" width="33.0" height="1" fill="#b01020" opacity="0.016"/>
<rect x="392.5" y="388.5" width="33.0" height="1" fill="#b01020" opacity="0.012"/>
<rect x="360" y="390.5" width="32.5" height="1" fill="#b01020" opacity="0.021"/>
<rect x="360" y="391.5" width="32.5" height="1" fill="#b01020" opacity="0.031"/>
<rect x="392.5" y="391.5" width="33.0" height="1" fill="#b01020" opacity="0.035"/>
<rect x="425.5" y="391.5" width="32.5" height="1" fill="#b01020" opacity="0.033"/>
<rect x="458" y="391.5" width="32.3" height="1" fill="#b01020" opacity="0.046"/>
<rect x="360" y="392.5" width="32.5" height="1" fill="#b01020" opacity="0.040"/>
<rect x="392.5" y="392.5" width="33.0" height="1" fill="#b01020" opacity="0.031"/>
<rect x="425.5" y="392.5" width="32.5" height="1" fill="#b01020" opacity="0.033"/>
<rect x="360" y="395.5" width="32.5" height="1" fill="#b01020" opacity="0.047"/>
<rect x="392.5" y="395.5" width="33.0" height="1" fill="#b01020" opacity="0.035"/>
<rect x="425.5" y="395.5" width="32.5" height="1" fill="#b01020" opacity="0.039"/>
<rect x="458" y="395.5" width="32.3" height="1" fill="#b01020" opacity="0.068"/>
<rect x="360" y="396.5" width="32.5" height="1" fill="#b01020" opacity="0.067"/>
<rect x="392.5" y="396.5" width="33.0" height="1" fill="#b01020" opacity="0.050"/>
<rect x="425.5" y="396.5" width="32.5" height="1" fill="#b01020" opacity="0.044"/>
<rect x="458" y="396.5" width="32.3" height="1" fill="#b01020" opacity="0.053"/>
<rect x="425.5" y="397.5" width="32.5" height="1" fill="#b01020" opacity="0.027"/>
<rect x="360" y="398.5" width="32.5" height="1" fill="#b01020" opacity="0.072"/>
<rect x="392.5" y="398.5" width="33.0" height="1" fill="#b01020" opacity="0.045"/>
<rect x="425.5" y="398.5" width="32.5" height="1" fill="#b01020" opacity="0.031"/>
<rect x="458" y="398.5" width="32.3" height="1" fill="#b01020" opacity="0.041"/>
<rect x="360" y="399.5" width="32.5" height="1" fill="#b01020" opacity="0.042"/>
<rect x="458" y="399.5" width="32.3" height="1" fill="#b01020" opacity="0.028"/>
<rect x="360" y="400.5" width="32.5" height="1" fill="#b01020" opacity="0.011"/>
<rect x="425.5" y="400.5" width="32.5" height="1" fill="#b01020" opacity="0.028"/>
<rect x="392.5" y="401.5" width="33.0" height="1" fill="#b01020" opacity="0.023"/>
<rect x="458" y="401.5" width="32.3" height="1" fill="#b01020" opacity="0.017"/>
<rect x="425.5" y="402.5" width="32.5" height="1" fill="#b01020" opacity="0.044"/>
<rect x="458" y="402.5" width="32.3" height="1" fill="#b01020" opacity="0.023"/>
<rect x="360.0" y="265.5" width="130.30" height="1.2" fill="#c02030" opacity="0.12"/>
<rect x="407.05" y="265.5" width="3.6" height="139.30" fill="#e2555a"/>
<rect x="407.55" y="265.5" width="2.6" height="139.30" fill="#d82a30"/>
<rect x="440.90" y="265.5" width="3.6" height="139.30" fill="#e2555a"/>
<rect x="441.40" y="265.5" width="2.6" height="139.30" fill="#d82a30"/>
<rect x="472.45" y="265.5" width="3.6" height="139.30" fill="#e2555a"/>
<rect x="472.95" y="265.5" width="2.6" height="139.30" fill="#d82a30"/>
<rect x="509" y="300.2" width="6" height="65.5" fill="url(#cb)"/>
<text x="511.4" y="297.6" font-size="7" text-anchor="middle" fill="#000" stroke="#000" stroke-width="0.05">4</text>
<text x="510.8" y="384.9" font-size="7" text-anchor="middle" fill="#000" stroke="#000" stroke-width="0.05">0</text>
</svg></body></html>
